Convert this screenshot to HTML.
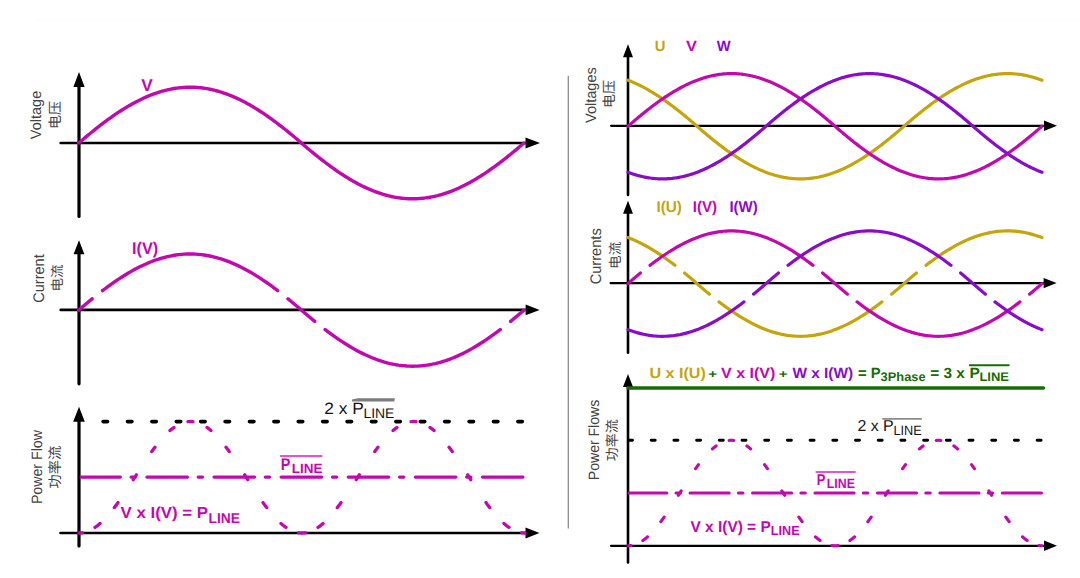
<!DOCTYPE html>
<html><head><meta charset="utf-8"><title>Power flow</title>
<style>
html,body{margin:0;padding:0;background:#fff;width:1080px;height:578px;overflow:hidden}
svg{display:block}
text{font-family:"Liberation Sans","Noto Sans CJK SC",sans-serif;text-rendering:geometricPrecision}
text.cjk{font-family:"Noto Sans CJK SC","WenQuanYi Zen Hei",sans-serif}
</style></head>
<body>
<svg width="1080" height="578" viewBox="0 0 1080 578">
<rect width="1080" height="578" fill="#fff"/>
<path d="M79 86 V216.4" stroke="#000" stroke-width="3.2" stroke-linecap="round"/>
<path d="M79 72 L73.4 87 L84.6 87 Z" fill="#000"/>
<path d="M60.7 143 H526.5" stroke="#000" stroke-width="2.6" stroke-linecap="round"/>
<path d="M540 143 L525.5 137.4 L525.5 148.6 Z" fill="#000"/>
<path d="M78.8 143 L80.29 141.72 L81.78 140.44 L83.27 139.18 L84.76 137.92 L86.24 136.67 L87.73 135.43 L89.22 134.2 L90.71 132.97 L92.2 131.76 L93.69 130.56 L95.18 129.37 L96.67 128.18 L98.16 127.01 L99.65 125.85 L101.13 124.7 L102.62 123.57 L104.11 122.44 L105.6 121.33 L107.09 120.23 L108.58 119.15 L110.07 118.08 L111.56 117.02 L113.05 115.98 L114.54 114.95 L116.02 113.93 L117.51 112.93 L119 111.95 L120.49 110.98 L121.98 110.03 L123.47 109.09 L124.96 108.17 L126.45 107.27 L127.94 106.38 L129.42 105.51 L130.91 104.66 L132.4 103.82 L133.89 103.01 L135.38 102.21 L136.87 101.43 L138.36 100.67 L139.85 99.93 L141.34 99.2 L142.83 98.5 L144.31 97.82 L145.8 97.15 L147.29 96.51 L148.78 95.89 L150.27 95.28 L151.76 94.7 L153.25 94.14 L154.74 93.6 L156.23 93.08 L157.72 92.58 L159.2 92.1 L160.69 91.64 L162.18 91.21 L163.67 90.8 L165.16 90.4 L166.65 90.04 L168.14 89.69 L169.63 89.36 L171.12 89.06 L172.6 88.78 L174.09 88.53 L175.58 88.29 L177.07 88.08 L178.56 87.89 L180.05 87.72 L181.54 87.58 L183.03 87.46 L184.52 87.36 L186.01 87.29 L187.49 87.24 L188.98 87.21 L190.47 87.2 L191.96 87.22 L193.45 87.26 L194.94 87.32 L196.43 87.41 L197.92 87.52 L199.41 87.65 L200.89 87.8 L202.38 87.98 L203.87 88.18 L205.36 88.41 L206.85 88.65 L208.34 88.92 L209.83 89.21 L211.32 89.52 L212.81 89.86 L214.3 90.22 L215.78 90.6 L217.27 91 L218.76 91.42 L220.25 91.87 L221.74 92.33 L223.23 92.82 L224.72 93.33 L226.21 93.86 L227.7 94.42 L229.19 94.99 L230.67 95.58 L232.16 96.19 L233.65 96.83 L235.14 97.48 L236.63 98.16 L238.12 98.85 L239.61 99.56 L241.1 100.3 L242.59 101.05 L244.07 101.82 L245.56 102.61 L247.05 103.41 L248.54 104.24 L250.03 105.08 L251.52 105.94 L253.01 106.82 L254.5 107.71 L255.99 108.63 L257.48 109.56 L258.96 110.5 L260.45 111.46 L261.94 112.44 L263.43 113.43 L264.92 114.44 L266.41 115.46 L267.9 116.5 L269.39 117.55 L270.88 118.61 L272.37 119.69 L273.85 120.78 L275.34 121.89 L276.83 123 L278.32 124.13 L279.81 125.28 L281.3 126.43 L282.79 127.6 L284.28 128.77 L285.77 129.96 L287.25 131.16 L288.74 132.37 L290.23 133.58 L291.72 134.81 L293.21 136.05 L294.7 137.29 L296.19 138.55 L297.68 139.81 L299.17 141.08 L300.66 142.36 L302.14 143.64 L303.63 144.92 L305.12 146.19 L306.61 147.45 L308.1 148.71 L309.59 149.95 L311.08 151.19 L312.57 152.42 L314.06 153.63 L315.55 154.84 L317.03 156.04 L318.52 157.23 L320.01 158.4 L321.5 159.57 L322.99 160.72 L324.48 161.87 L325.97 163 L327.46 164.11 L328.95 165.22 L330.43 166.31 L331.92 167.39 L333.41 168.45 L334.9 169.5 L336.39 170.54 L337.88 171.56 L339.37 172.57 L340.86 173.56 L342.35 174.54 L343.84 175.5 L345.32 176.44 L346.81 177.37 L348.3 178.29 L349.79 179.18 L351.28 180.06 L352.77 180.92 L354.26 181.76 L355.75 182.59 L357.24 183.39 L358.73 184.18 L360.21 184.95 L361.7 185.7 L363.19 186.44 L364.68 187.15 L366.17 187.84 L367.66 188.52 L369.15 189.17 L370.64 189.81 L372.13 190.42 L373.61 191.01 L375.1 191.58 L376.59 192.14 L378.08 192.67 L379.57 193.18 L381.06 193.67 L382.55 194.13 L384.04 194.58 L385.53 195 L387.02 195.4 L388.5 195.78 L389.99 196.14 L391.48 196.48 L392.97 196.79 L394.46 197.08 L395.95 197.35 L397.44 197.59 L398.93 197.82 L400.42 198.02 L401.91 198.2 L403.39 198.35 L404.88 198.48 L406.37 198.59 L407.86 198.68 L409.35 198.74 L410.84 198.78 L412.33 198.8 L413.82 198.79 L415.31 198.76 L416.79 198.71 L418.28 198.64 L419.77 198.54 L421.26 198.42 L422.75 198.28 L424.24 198.11 L425.73 197.92 L427.22 197.71 L428.71 197.47 L430.2 197.22 L431.68 196.94 L433.17 196.64 L434.66 196.31 L436.15 195.96 L437.64 195.6 L439.13 195.2 L440.62 194.79 L442.11 194.36 L443.6 193.9 L445.08 193.42 L446.57 192.92 L448.06 192.4 L449.55 191.86 L451.04 191.3 L452.53 190.72 L454.02 190.11 L455.51 189.49 L457 188.85 L458.49 188.18 L459.97 187.5 L461.46 186.8 L462.95 186.07 L464.44 185.33 L465.93 184.57 L467.42 183.79 L468.91 182.99 L470.4 182.18 L471.89 181.34 L473.38 180.49 L474.86 179.62 L476.35 178.73 L477.84 177.83 L479.33 176.91 L480.82 175.97 L482.31 175.02 L483.8 174.05 L485.29 173.07 L486.78 172.07 L488.26 171.05 L489.75 170.02 L491.24 168.98 L492.73 167.92 L494.22 166.85 L495.71 165.77 L497.2 164.67 L498.69 163.56 L500.18 162.43 L501.67 161.3 L503.15 160.15 L504.64 158.99 L506.13 157.82 L507.62 156.63 L509.11 155.44 L510.6 154.24 L512.09 153.03 L513.58 151.8 L515.07 150.57 L516.56 149.33 L518.04 148.08 L519.53 146.82 L521.02 145.56 L522.51 144.28 L524 143" stroke="#C208AE" stroke-width="3.4" fill="none" stroke-linecap="round" stroke-linejoin="round"/>
<path d="M79 253.2 V383.8" stroke="#000" stroke-width="3.2" stroke-linecap="round"/>
<path d="M79 240.2 L73.6 254.2 L84.4 254.2 Z" fill="#000"/>
<path d="M60.7 309.9 H526.6" stroke="#000" stroke-width="2.6" stroke-linecap="round"/>
<path d="M539.6 309.9 L525.6 304.5 L525.6 315.3 Z" fill="#000"/>
<path d="M78.8 310.1 L78.95 309.97 L79.1 309.84 L79.25 309.71 L79.39 309.59 L79.54 309.46 L79.69 309.33 L79.84 309.2 L79.99 309.07 L80.14 308.94 L80.28 308.82 L80.43 308.69 L80.58 308.56 L80.73 308.43 L80.88 308.3 L81.03 308.18 L81.18 308.05 L81.32 307.92 L81.47 307.79 L81.62 307.67 L81.77 307.54 L81.92 307.41 L82.07 307.28 L82.21 307.16 L82.36 307.03 L82.51 306.9 L82.66 306.78 L82.81 306.65 L82.96 306.52 L83.11 306.4 L83.25 306.27 L83.4 306.14 L83.55 306.02 L83.7 305.89 L83.85 305.76 L84 305.64 L84.14 305.51 L84.29 305.39 L84.44 305.26 L84.59 305.13 L84.74 305.01 L84.89 304.88 L85.03 304.76 L85.18 304.63 L85.33 304.51 L85.48 304.38 L85.63 304.26 L85.78 304.13 L85.93 304.01 L86.07 303.88 L86.22 303.76 L86.37 303.63 L86.52 303.51 L86.67 303.38 L86.82 303.26 L86.96 303.13 L87.11 303.01 L87.26 302.88 L87.41 302.76 L87.56 302.64 L87.71 302.51 L87.86 302.39 L88 302.26 L88.15 302.14 L88.3 302.02 L88.45 301.89 L88.6 301.77 L88.75 301.65 L88.89 301.52 L89.04 301.4 L89.19 301.28 L89.34 301.15 L89.49 301.03 L89.64 300.91 L89.79 300.78 L89.93 300.66 L90.08 300.54 L90.23 300.42 L90.38 300.29 L90.53 300.17 L90.68 300.05 L90.82 299.93 L90.97 299.81 L91.12 299.68 L91.27 299.56 L91.42 299.44 L91.57 299.32 L91.72 299.2 L91.86 299.08 L92.01 298.96 L92.16 298.83 L92.18 298.82 M102.53 290.63 L102.55 290.62 L105.37 288.49 L108.19 286.4 L111.01 284.37 L113.83 282.38 L116.65 280.45 L119.48 278.57 L122.3 276.75 L125.12 274.98 L127.94 273.28 L130.76 271.64 L133.58 270.06 L136.4 268.55 L139.22 267.11 L142.04 265.73 L144.86 264.43 L147.68 263.19 L150.5 262.03 L153.32 260.95 L156.14 259.94 L158.96 259 L161.78 258.14 L164.6 257.37 L167.42 256.67 L170.24 256.05 L173.07 255.51 L175.89 255.05 L178.71 254.68 L181.53 254.38 L184.35 254.17 L187.17 254.04 L189.99 254 L192.81 254.04 L195.63 254.16 L198.45 254.36 L201.27 254.65 L204.09 255.02 L206.91 255.47 L209.73 256 L212.55 256.61 L215.37 257.31 L218.19 258.08 L221.01 258.93 L223.84 259.86 L226.66 260.86 L229.48 261.94 L232.3 263.1 L235.12 264.33 L237.94 265.63 L240.76 267 L243.58 268.44 L246.4 269.94 L249.22 271.51 L252.04 273.15 L254.86 274.85 L257.68 276.61 L260.5 278.42 L263.32 280.3 L266.14 282.23 L268.96 284.21 L271.78 286.24 L274.6 288.32 L277.43 290.45 L277.67 290.63 M288.02 298.82 L288.11 298.89 L288.56 299.26 L289 299.62 L289.45 299.99 L289.9 300.36 L290.34 300.72 L290.79 301.09 L291.23 301.46 L291.68 301.83 L292.12 302.2 L292.57 302.57 L293.01 302.95 L293.46 303.32 L293.9 303.69 L294.35 304.07 L294.79 304.44 L295.24 304.82 L295.68 305.2 L296.13 305.58 L296.58 305.95 L297.02 306.33 L297.47 306.71 L297.91 307.09 L298.36 307.48 L298.8 307.86 L299.25 308.24 L299.69 308.62 L300.14 309.01 L300.58 309.39 L301.03 309.78 L301.47 310.16 L301.92 310.55 L302.36 310.94 L302.81 311.32 L303.26 311.7 L303.7 312.09 L304.15 312.47 L304.59 312.85 L305.04 313.23 L305.48 313.61 L305.93 313.99 L306.37 314.37 L306.82 314.75 L307.26 315.13 L307.71 315.51 L308.15 315.88 L308.6 316.26 L309.05 316.63 L309.49 317.01 L309.94 317.38 L310.38 317.75 L310.83 318.12 L311.27 318.49 L311.72 318.86 L312.16 319.23 L312.61 319.6 L313.05 319.97 L313.5 320.33 L313.94 320.7 L314.39 321.06 L314.78 321.38 M325.13 329.57 L325.23 329.64 L328.05 331.77 L330.87 333.85 L333.69 335.89 L336.51 337.87 L339.33 339.8 L342.15 341.68 L344.97 343.5 L347.79 345.26 L350.61 346.96 L353.43 348.6 L356.25 350.18 L359.07 351.69 L361.89 353.13 L364.71 354.5 L367.53 355.81 L370.35 357.04 L373.18 358.2 L376 359.28 L378.82 360.29 L381.64 361.22 L384.46 362.08 L387.28 362.85 L390.1 363.55 L392.92 364.17 L395.74 364.7 L398.56 365.16 L401.38 365.53 L404.2 365.82 L407.02 366.03 L409.84 366.16 L412.66 366.2 L415.48 366.16 L418.3 366.04 L421.12 365.83 L423.95 365.54 L426.77 365.17 L429.59 364.72 L432.41 364.18 L435.23 363.57 L438.05 362.87 L440.87 362.1 L443.69 361.25 L446.51 360.32 L449.33 359.31 L452.15 358.23 L454.97 357.07 L457.79 355.84 L460.61 354.54 L463.43 353.17 L466.25 351.73 L469.07 350.22 L471.89 348.64 L474.71 347.01 L477.54 345.31 L480.36 343.55 L483.18 341.73 L486 339.85 L488.82 337.92 L491.64 335.94 L494.46 333.91 L497.28 331.82 L500.1 329.7 L500.27 329.57 M510.62 321.38 L510.64 321.37 L510.79 321.24 L510.94 321.12 L511.08 321 L511.23 320.88 L511.38 320.76 L511.53 320.64 L511.68 320.52 L511.83 320.39 L511.98 320.27 L512.12 320.15 L512.27 320.03 L512.42 319.91 L512.57 319.78 L512.72 319.66 L512.87 319.54 L513.01 319.42 L513.16 319.29 L513.31 319.17 L513.46 319.05 L513.61 318.92 L513.76 318.8 L513.91 318.68 L514.05 318.55 L514.2 318.43 L514.35 318.31 L514.5 318.18 L514.65 318.06 L514.8 317.94 L514.94 317.81 L515.09 317.69 L515.24 317.56 L515.39 317.44 L515.54 317.32 L515.69 317.19 L515.84 317.07 L515.98 316.94 L516.13 316.82 L516.28 316.69 L516.43 316.57 L516.58 316.44 L516.73 316.32 L516.87 316.19 L517.02 316.07 L517.17 315.94 L517.32 315.82 L517.47 315.69 L517.62 315.57 L517.77 315.44 L517.91 315.32 L518.06 315.19 L518.21 315.07 L518.36 314.94 L518.51 314.81 L518.66 314.69 L518.8 314.56 L518.95 314.44 L519.1 314.31 L519.25 314.18 L519.4 314.06 L519.55 313.93 L519.69 313.8 L519.84 313.68 L519.99 313.55 L520.14 313.42 L520.29 313.3 L520.44 313.17 L520.59 313.04 L520.73 312.92 L520.88 312.79 L521.03 312.66 L521.18 312.53 L521.33 312.41 L521.48 312.28 L521.62 312.15 L521.77 312.02 L521.92 311.9 L522.07 311.77 L522.22 311.64 L522.37 311.51 L522.52 311.38 L522.66 311.26 L522.81 311.13 L522.96 311 L523.11 310.87 L523.26 310.74 L523.41 310.61 L523.55 310.49 L523.7 310.36 L523.85 310.23 L524 310.1 " stroke="#C208AE" stroke-width="3.4" fill="none" stroke-linecap="round" stroke-linejoin="round"/>
<path d="M79 420.8 V545.9" stroke="#000" stroke-width="3.2" stroke-linecap="round"/>
<path d="M79 406.8 L73.2 421.8 L84.8 421.8 Z" fill="#000"/>
<path d="M60.5 533 H526.5" stroke="#000" stroke-width="2.6" stroke-linecap="round"/>
<path d="M539.5 533 L525.5 527.6 L525.5 538.4 Z" fill="#000"/>
<path d="M103.05 421.6 h4.5 M127.45 421.6 h4.5 M151.85 421.6 h4.5 M176.25 421.6 h4.5 M200.65 421.6 h4.5 M225.05 421.6 h4.5 M249.45 421.6 h4.5 M273.85 421.6 h4.5 M298.25 421.6 h4.5 M322.65 421.6 h4.5 M347.05 421.6 h4.5 M371.45 421.6 h4.5 M395.85 421.6 h4.5 M420.25 421.6 h4.5 M444.65 421.6 h4.5 M469.05 421.6 h4.5 M493.45 421.6 h4.5 M517.85 421.6 h4.5" stroke="#000" stroke-width="3.6" fill="none" stroke-linecap="round"/>
<path d="M81.15 477.1 H120.35 M131.15 477.1 H135.35 M146.95 477.1 H187.45 M198.25 477.1 H202.45 M214.05 477.1 H254.55 M265.35 477.1 H269.55 M281.15 477.1 H321.65 M332.45 477.1 H336.65 M348.25 477.1 H388.75 M399.55 477.1 H403.75 M415.35 477.1 H455.85 M466.65 477.1 H470.85 M482.45 477.1 H522.95" stroke="#C208AE" stroke-width="3.3" fill="none" stroke-linecap="round"/>
<path d="M79 533 L79.11 533 L79.22 533 L79.33 533 L79.45 533 L79.56 532.99 L79.67 532.99 L79.78 532.99 L79.89 532.98 L80 532.98 L80.12 532.97 L80.23 532.97 L80.34 532.96 L80.45 532.95 L80.56 532.95 L80.67 532.94 L80.78 532.93 L80.9 532.92 L81.01 532.91 L81.12 532.9 L81.23 532.89 L81.34 532.88 L81.45 532.87 L81.57 532.85 L81.68 532.84 L81.79 532.83 L81.9 532.81 L82.01 532.8 L82.12 532.78 L82.23 532.77 L82.29 532.76 M94.97 527.45 L95.06 527.39 L95.17 527.31 L95.28 527.23 L95.39 527.16 L95.51 527.08 L95.62 527 L95.73 526.92 L95.84 526.84 L95.95 526.76 L96.06 526.68 L96.18 526.6 L96.29 526.52 L96.4 526.43 L96.51 526.35 L96.62 526.27 L96.73 526.18 L96.84 526.1 L96.96 526.02 L97.07 525.93 L97.18 525.85 L97.29 525.76 L97.4 525.67 L97.51 525.59 L97.63 525.5 L97.74 525.41 L97.85 525.32 L97.96 525.23 L98.07 525.14 L98.18 525.05 L98.29 524.96 L98.41 524.87 L98.52 524.78 L98.63 524.69 L98.74 524.6 L98.85 524.5 L98.96 524.41 L99.08 524.32 L99.19 524.22 L99.3 524.13 L99.41 524.03 L99.52 523.94 L99.63 523.84 L99.74 523.75 L99.86 523.65 L99.97 523.55 L100.08 523.45 M114.31 507.61 L114.35 507.55 L114.47 507.41 L114.58 507.26 L114.69 507.11 L114.8 506.96 L114.91 506.81 L115.02 506.67 L115.14 506.52 L115.25 506.37 L115.36 506.22 L115.47 506.07 L115.58 505.92 L115.69 505.77 L115.8 505.62 L115.92 505.47 L116.03 505.31 L116.14 505.16 L116.25 505.01 L116.36 504.86 L116.47 504.71 L116.58 504.55 L116.7 504.4 L116.81 504.25 L116.92 504.09 L117.03 503.94 L117.14 503.79 L117.25 503.63 L117.37 503.48 L117.48 503.32 L117.59 503.17 L117.7 503.01 L117.81 502.86 L117.92 502.7 L117.99 502.61 M133.19 479.7 L133.2 479.68 L133.31 479.5 L133.43 479.33 L133.54 479.15 L133.65 478.98 L133.76 478.8 L133.87 478.63 L133.98 478.45 L134.09 478.28 L134.21 478.1 L134.32 477.93 L134.43 477.75 L134.54 477.58 L134.65 477.4 L134.76 477.23 L134.88 477.05 L134.99 476.88 L135.1 476.7 L135.21 476.53 L135.32 476.35 L135.43 476.18 L135.54 476 L135.66 475.83 L135.77 475.65 L135.88 475.48 L135.99 475.3 L136.1 475.13 L136.21 474.95 L136.31 474.8 M151.75 451.56 L151.83 451.45 L151.94 451.29 L152.05 451.14 L152.16 450.98 L152.27 450.83 L152.39 450.67 L152.5 450.52 L152.61 450.37 L152.72 450.21 L152.83 450.06 L152.94 449.91 L153.05 449.76 L153.17 449.6 L153.28 449.45 L153.39 449.3 L153.5 449.15 L153.61 449 L153.72 448.85 L153.84 448.7 L153.95 448.54 L154.06 448.39 L154.17 448.24 L154.28 448.1 L154.39 447.95 L154.5 447.8 L154.62 447.65 L154.73 447.5 L154.84 447.35 L154.95 447.21 M169.94 430.59 L170.01 430.54 L170.12 430.44 L170.23 430.35 L170.34 430.25 L170.45 430.16 L170.56 430.07 L170.68 429.97 L170.79 429.88 L170.9 429.79 L171.01 429.7 L171.12 429.61 L171.23 429.51 L171.35 429.42 L171.46 429.33 L171.57 429.25 L171.68 429.16 L171.79 429.07 L171.9 428.98 L172.01 428.89 L172.13 428.81 L172.24 428.72 L172.35 428.63 L172.46 428.55 L172.57 428.46 L172.68 428.38 L172.79 428.29 L172.91 428.21 L173.02 428.13 L173.13 428.04 L173.24 427.96 L173.35 427.88 L173.46 427.8 L173.58 427.72 L173.69 427.64 L173.8 427.56 L173.91 427.48 L173.96 427.44 M188.01 421.64 L188.07 421.63 L188.19 421.62 L188.3 421.61 L188.41 421.6 L188.52 421.59 L188.63 421.58 L188.74 421.57 L188.85 421.56 L188.97 421.55 L189.08 421.54 L189.19 421.54 L189.3 421.53 L189.41 421.53 L189.52 421.52 L189.64 421.52 L189.75 421.51 L189.86 421.51 L189.97 421.51 L190.08 421.5 L190.19 421.5 L190.3 421.5 L190.42 421.5 L190.53 421.5 L190.64 421.5 L190.75 421.5 L190.86 421.5 L190.97 421.5 L191.09 421.51 L191.2 421.51 L191.31 421.51 L191.42 421.52 L191.53 421.52 L191.64 421.53 L191.75 421.53 L191.87 421.54 L191.98 421.55 L192.09 421.56 L192.2 421.56 L192.31 421.57 L192.42 421.58 L192.54 421.59 L192.65 421.6 L192.76 421.61 L192.87 421.62 L192.98 421.64 L192.99 421.64 M207.04 427.44 L207.15 427.52 L207.26 427.6 L207.37 427.68 L207.48 427.76 L207.59 427.84 L207.7 427.92 L207.81 428 L207.93 428.09 L208.04 428.17 L208.15 428.25 L208.26 428.34 L208.37 428.42 L208.48 428.51 L208.6 428.59 L208.71 428.68 L208.82 428.76 L208.93 428.85 L209.04 428.94 L209.15 429.02 L209.26 429.11 L209.38 429.2 L209.49 429.29 L209.6 429.38 L209.71 429.47 L209.82 429.56 L209.93 429.65 L210.05 429.74 L210.16 429.83 L210.27 429.93 L210.38 430.02 L210.49 430.11 L210.6 430.21 L210.71 430.3 L210.83 430.4 L210.94 430.49 L211.05 430.59 L211.06 430.59 M226.05 447.21 L226.11 447.28 L226.22 447.43 L226.33 447.57 L226.44 447.72 L226.55 447.87 L226.66 448.02 L226.77 448.17 L226.89 448.32 L227 448.47 L227.11 448.62 L227.22 448.77 L227.33 448.92 L227.44 449.07 L227.56 449.22 L227.67 449.38 L227.78 449.53 L227.89 449.68 L228 449.83 L228.11 449.98 L228.22 450.14 L228.34 450.29 L228.45 450.44 L228.56 450.6 L228.67 450.75 L228.78 450.91 L228.89 451.06 L229.01 451.21 L229.12 451.37 L229.23 451.53 L229.25 451.56 M244.69 474.8 L244.73 474.86 L244.84 475.04 L244.95 475.21 L245.07 475.39 L245.18 475.56 L245.29 475.74 L245.4 475.91 L245.51 476.09 L245.62 476.26 L245.73 476.44 L245.85 476.61 L245.96 476.79 L246.07 476.97 L246.18 477.14 L246.29 477.32 L246.4 477.49 L246.51 477.67 L246.63 477.84 L246.74 478.02 L246.85 478.19 L246.96 478.37 L247.07 478.54 L247.18 478.72 L247.3 478.89 L247.41 479.07 L247.52 479.24 L247.63 479.42 L247.74 479.59 L247.81 479.7 M263.01 502.61 L263.02 502.62 L263.13 502.78 L263.24 502.94 L263.36 503.09 L263.47 503.25 L263.58 503.4 L263.69 503.56 L263.8 503.71 L263.91 503.86 L264.02 504.02 L264.14 504.17 L264.25 504.32 L264.36 504.48 L264.47 504.63 L264.58 504.78 L264.69 504.94 L264.81 505.09 L264.92 505.24 L265.03 505.39 L265.14 505.54 L265.25 505.69 L265.36 505.84 L265.47 505.99 L265.59 506.14 L265.7 506.29 L265.81 506.44 L265.92 506.59 L266.03 506.74 L266.14 506.89 L266.26 507.04 L266.37 507.18 L266.48 507.33 L266.59 507.48 L266.69 507.61 M280.92 523.45 L280.98 523.5 L281.09 523.6 L281.2 523.7 L281.31 523.79 L281.42 523.89 L281.53 523.99 L281.65 524.08 L281.76 524.18 L281.87 524.27 L281.98 524.36 L282.09 524.46 L282.2 524.55 L282.32 524.64 L282.43 524.73 L282.54 524.83 L282.65 524.92 L282.76 525.01 L282.87 525.1 L282.98 525.19 L283.1 525.28 L283.21 525.37 L283.32 525.45 L283.43 525.54 L283.54 525.63 L283.65 525.72 L283.77 525.8 L283.88 525.89 L283.99 525.97 L284.1 526.06 L284.21 526.14 L284.32 526.23 L284.43 526.31 L284.55 526.39 L284.66 526.48 L284.77 526.56 L284.88 526.64 L284.99 526.72 L285.1 526.8 L285.22 526.88 L285.33 526.96 L285.44 527.04 L285.55 527.12 L285.66 527.2 L285.77 527.27 L285.88 527.35 L286 527.43 L286.03 527.45 M298.71 532.76 L298.82 532.78 L298.93 532.79 L299.04 532.81 L299.16 532.82 L299.27 532.83 L299.38 532.85 L299.49 532.86 L299.6 532.87 L299.71 532.88 L299.83 532.9 L299.94 532.91 L300.05 532.92 L300.16 532.93 L300.27 532.93 L300.38 532.94 L300.49 532.95 L300.61 532.96 L300.72 532.96 L300.83 532.97 L300.94 532.98 L301.05 532.98 L301.16 532.98 L301.28 532.99 L301.39 532.99 L301.5 532.99 L301.61 533 L301.72 533 L301.83 533 L301.94 533 L302.06 533 L302.17 533 L302.28 533 L302.39 533 L302.5 532.99 L302.61 532.99 L302.72 532.99 L302.84 532.98 L302.95 532.98 L303.06 532.98 L303.17 532.97 L303.28 532.96 L303.39 532.96 L303.51 532.95 L303.62 532.94 L303.73 532.93 L303.84 532.93 L303.95 532.92 L304.06 532.91 L304.17 532.9 L304.29 532.88 L304.4 532.87 L304.51 532.86 L304.62 532.85 L304.73 532.83 L304.84 532.82 L304.96 532.81 L305.07 532.79 L305.18 532.78 L305.29 532.76 M317.97 527.45 L318 527.43 L318.12 527.35 L318.23 527.27 L318.34 527.2 L318.45 527.12 L318.56 527.04 L318.67 526.96 L318.78 526.88 L318.9 526.8 L319.01 526.72 L319.12 526.64 L319.23 526.56 L319.34 526.48 L319.45 526.39 L319.57 526.31 L319.68 526.23 L319.79 526.14 L319.9 526.06 L320.01 525.97 L320.12 525.89 L320.23 525.8 L320.35 525.72 L320.46 525.63 L320.57 525.54 L320.68 525.45 L320.79 525.37 L320.9 525.28 L321.02 525.19 L321.13 525.1 L321.24 525.01 L321.35 524.92 L321.46 524.83 L321.57 524.73 L321.68 524.64 L321.8 524.55 L321.91 524.46 L322.02 524.36 L322.13 524.27 L322.24 524.18 L322.35 524.08 L322.47 523.99 L322.58 523.89 L322.69 523.79 L322.8 523.7 L322.91 523.6 L323.02 523.5 L323.08 523.45 M337.31 507.61 L337.41 507.48 L337.52 507.33 L337.63 507.18 L337.74 507.04 L337.86 506.89 L337.97 506.74 L338.08 506.59 L338.19 506.44 L338.3 506.29 L338.41 506.14 L338.53 505.99 L338.64 505.84 L338.75 505.69 L338.86 505.54 L338.97 505.39 L339.08 505.24 L339.19 505.09 L339.31 504.94 L339.42 504.78 L339.53 504.63 L339.64 504.48 L339.75 504.32 L339.86 504.17 L339.98 504.02 L340.09 503.86 L340.2 503.71 L340.31 503.56 L340.42 503.4 L340.53 503.25 L340.64 503.09 L340.76 502.94 L340.87 502.78 L340.98 502.62 L340.99 502.61 M356.19 479.7 L356.26 479.59 L356.37 479.42 L356.48 479.24 L356.59 479.07 L356.7 478.89 L356.82 478.72 L356.93 478.54 L357.04 478.37 L357.15 478.19 L357.26 478.02 L357.37 477.84 L357.49 477.67 L357.6 477.49 L357.71 477.32 L357.82 477.14 L357.93 476.97 L358.04 476.79 L358.15 476.61 L358.27 476.44 L358.38 476.26 L358.49 476.09 L358.6 475.91 L358.71 475.74 L358.82 475.56 L358.93 475.39 L359.05 475.21 L359.16 475.04 L359.27 474.86 L359.31 474.8 M374.75 451.56 L374.77 451.53 L374.88 451.37 L374.99 451.21 L375.11 451.06 L375.22 450.91 L375.33 450.75 L375.44 450.6 L375.55 450.44 L375.66 450.29 L375.78 450.14 L375.89 449.98 L376 449.83 L376.11 449.68 L376.22 449.53 L376.33 449.38 L376.44 449.22 L376.56 449.07 L376.67 448.92 L376.78 448.77 L376.89 448.62 L377 448.47 L377.11 448.32 L377.23 448.17 L377.34 448.02 L377.45 447.87 L377.56 447.72 L377.67 447.57 L377.78 447.43 L377.89 447.28 L377.95 447.21 M392.94 430.59 L392.95 430.59 L393.06 430.49 L393.17 430.4 L393.29 430.3 L393.4 430.21 L393.51 430.11 L393.62 430.02 L393.73 429.93 L393.84 429.83 L393.95 429.74 L394.07 429.65 L394.18 429.56 L394.29 429.47 L394.4 429.38 L394.51 429.29 L394.62 429.2 L394.74 429.11 L394.85 429.02 L394.96 428.94 L395.07 428.85 L395.18 428.76 L395.29 428.68 L395.4 428.59 L395.52 428.51 L395.63 428.42 L395.74 428.34 L395.85 428.25 L395.96 428.17 L396.07 428.09 L396.19 428 L396.3 427.92 L396.41 427.84 L396.52 427.76 L396.63 427.68 L396.74 427.6 L396.85 427.52 L396.96 427.44 M411.01 421.64 L411.02 421.64 L411.13 421.62 L411.24 421.61 L411.35 421.6 L411.46 421.59 L411.58 421.58 L411.69 421.57 L411.8 421.56 L411.91 421.56 L412.02 421.55 L412.13 421.54 L412.25 421.53 L412.36 421.53 L412.47 421.52 L412.58 421.52 L412.69 421.51 L412.8 421.51 L412.91 421.51 L413.03 421.5 L413.14 421.5 L413.25 421.5 L413.36 421.5 L413.47 421.5 L413.58 421.5 L413.7 421.5 L413.81 421.5 L413.92 421.5 L414.03 421.51 L414.14 421.51 L414.25 421.51 L414.36 421.52 L414.48 421.52 L414.59 421.53 L414.7 421.53 L414.81 421.54 L414.92 421.54 L415.03 421.55 L415.15 421.56 L415.26 421.57 L415.37 421.58 L415.48 421.59 L415.59 421.6 L415.7 421.61 L415.81 421.62 L415.93 421.63 L415.99 421.64 M430.04 427.44 L430.09 427.48 L430.2 427.56 L430.31 427.64 L430.42 427.72 L430.54 427.8 L430.65 427.88 L430.76 427.96 L430.87 428.04 L430.98 428.13 L431.09 428.21 L431.21 428.29 L431.32 428.38 L431.43 428.46 L431.54 428.55 L431.65 428.63 L431.76 428.72 L431.87 428.81 L431.99 428.89 L432.1 428.98 L432.21 429.07 L432.32 429.16 L432.43 429.25 L432.54 429.33 L432.65 429.42 L432.77 429.51 L432.88 429.61 L432.99 429.7 L433.1 429.79 L433.21 429.88 L433.32 429.97 L433.44 430.07 L433.55 430.16 L433.66 430.25 L433.77 430.35 L433.88 430.44 L433.99 430.54 L434.06 430.59 M449.05 447.21 L449.16 447.35 L449.27 447.5 L449.38 447.65 L449.5 447.8 L449.61 447.95 L449.72 448.1 L449.83 448.24 L449.94 448.39 L450.05 448.54 L450.16 448.7 L450.28 448.85 L450.39 449 L450.5 449.15 L450.61 449.3 L450.72 449.45 L450.83 449.6 L450.95 449.76 L451.06 449.91 L451.17 450.06 L451.28 450.21 L451.39 450.37 L451.5 450.52 L451.61 450.67 L451.73 450.83 L451.84 450.98 L451.95 451.14 L452.06 451.29 L452.17 451.45 L452.25 451.56 M467.69 474.8 L467.79 474.95 L467.9 475.13 L468.01 475.3 L468.12 475.48 L468.23 475.65 L468.34 475.83 L468.46 476 L468.57 476.18 L468.68 476.35 L468.79 476.53 L468.9 476.7 L469.01 476.88 L469.12 477.05 L469.24 477.23 L469.35 477.4 L469.46 477.58 L469.57 477.75 L469.68 477.93 L469.79 478.1 L469.91 478.28 L470.02 478.45 L470.13 478.63 L470.24 478.8 L470.35 478.98 L470.46 479.15 L470.57 479.33 L470.69 479.5 L470.8 479.68 L470.81 479.7 M486.01 502.61 L486.08 502.7 L486.19 502.86 L486.3 503.01 L486.41 503.17 L486.52 503.32 L486.63 503.48 L486.75 503.63 L486.86 503.79 L486.97 503.94 L487.08 504.09 L487.19 504.25 L487.3 504.4 L487.42 504.55 L487.53 504.71 L487.64 504.86 L487.75 505.01 L487.86 505.16 L487.97 505.31 L488.08 505.47 L488.2 505.62 L488.31 505.77 L488.42 505.92 L488.53 506.07 L488.64 506.22 L488.75 506.37 L488.86 506.52 L488.98 506.67 L489.09 506.81 L489.2 506.96 L489.31 507.11 L489.42 507.26 L489.53 507.41 L489.65 507.55 L489.69 507.61 M503.92 523.45 L504.03 523.55 L504.14 523.65 L504.26 523.75 L504.37 523.84 L504.48 523.94 L504.59 524.03 L504.7 524.13 L504.81 524.22 L504.92 524.32 L505.04 524.41 L505.15 524.5 L505.26 524.6 L505.37 524.69 L505.48 524.78 L505.59 524.87 L505.71 524.96 L505.82 525.05 L505.93 525.14 L506.04 525.23 L506.15 525.32 L506.26 525.41 L506.37 525.5 L506.49 525.59 L506.6 525.67 L506.71 525.76 L506.82 525.85 L506.93 525.93 L507.04 526.02 L507.16 526.1 L507.27 526.18 L507.38 526.27 L507.49 526.35 L507.6 526.43 L507.71 526.52 L507.82 526.6 L507.94 526.68 L508.05 526.76 L508.16 526.84 L508.27 526.92 L508.38 527 L508.49 527.08 L508.61 527.16 L508.72 527.23 L508.83 527.31 L508.94 527.39 L509.03 527.45 M521.71 532.76 L521.77 532.77 L521.88 532.78 L521.99 532.8 L522.1 532.81 L522.21 532.83 L522.32 532.84 L522.43 532.85 L522.55 532.87 L522.66 532.88 L522.77 532.89 L522.88 532.9 L522.99 532.91 L523.1 532.92 L523.22 532.93 L523.33 532.94 L523.44 532.95 L523.55 532.95 L523.66 532.96 L523.77 532.97 L523.88 532.97 L524 532.98 L524.11 532.98 L524.22 532.99 L524.33 532.99 L524.44 532.99 L524.55 533 L524.67 533 L524.78 533 L524.89 533 L525 533 " stroke="#C208AE" stroke-width="3.3" fill="none" stroke-linecap="round" stroke-linejoin="round"/>
<rect x="36.7" y="19.3" width="1043.3" height="1.2" fill="#fcfcfc"/>
<path d="M568.3 76 V528.5" stroke="#8a8a8a" stroke-width="1.3"/>
<path d="M628 56.3 V195" stroke="#000" stroke-width="2.6" stroke-linecap="round"/>
<path d="M628 44.3 L623 57.3 L633 57.3 Z" fill="#000"/>
<path d="M611.15 125.8 H1045" stroke="#000" stroke-width="2.3" stroke-linecap="round"/>
<path d="M1057 125.8 L1044 120.6 L1044 131 Z" fill="#000"/>
<path d="M628 80.23 L629.38 80.77 L630.77 81.32 L632.15 81.89 L633.54 82.48 L634.92 83.09 L636.31 83.72 L637.69 84.37 L639.08 85.04 L640.46 85.72 L641.85 86.43 L643.23 87.15 L644.62 87.89 L646 88.64 L647.38 89.41 L648.77 90.2 L650.15 91.01 L651.54 91.83 L652.92 92.67 L654.31 93.53 L655.69 94.4 L657.08 95.29 L658.46 96.19 L659.85 97.1 L661.23 98.04 L662.62 98.98 L664 99.94 L665.38 100.91 L666.77 101.9 L668.15 102.9 L669.54 103.91 L670.92 104.94 L672.31 105.98 L673.69 107.03 L675.08 108.09 L676.46 109.17 L677.85 110.25 L679.23 111.35 L680.62 112.45 L682 113.57 L683.38 114.7 L684.77 115.84 L686.15 116.98 L687.54 118.14 L688.92 119.3 L690.31 120.47 L691.69 121.65 L693.08 122.84 L694.46 124.04 L695.85 125.24 L697.23 126.45 L698.62 127.66 L700 128.86 L701.38 130.05 L702.77 131.24 L704.15 132.42 L705.54 133.59 L706.92 134.75 L708.31 135.9 L709.69 137.04 L711.08 138.18 L712.46 139.3 L713.85 140.42 L715.23 141.52 L716.62 142.61 L718 143.69 L719.38 144.76 L720.77 145.82 L722.15 146.87 L723.54 147.9 L724.92 148.92 L726.31 149.93 L727.69 150.93 L729.08 151.91 L730.46 152.88 L731.85 153.84 L733.23 154.78 L734.62 155.7 L736 156.61 L737.38 157.51 L738.77 158.39 L740.15 159.26 L741.54 160.11 L742.92 160.94 L744.31 161.76 L745.69 162.56 L747.08 163.34 L748.46 164.11 L749.85 164.86 L751.23 165.59 L752.62 166.31 L754 167.01 L755.38 167.69 L756.77 168.35 L758.15 168.99 L759.54 169.61 L760.92 170.22 L762.31 170.8 L763.69 171.37 L765.08 171.91 L766.46 172.44 L767.85 172.95 L769.23 173.44 L770.62 173.9 L772 174.35 L773.38 174.78 L774.77 175.18 L776.15 175.57 L777.54 175.94 L778.92 176.28 L780.31 176.6 L781.69 176.91 L783.08 177.19 L784.46 177.45 L785.85 177.69 L787.23 177.91 L788.62 178.1 L790 178.28 L791.38 178.43 L792.77 178.56 L794.15 178.67 L795.54 178.76 L796.92 178.83 L798.31 178.87 L799.69 178.9 L801.08 178.9 L802.46 178.88 L803.85 178.84 L805.23 178.77 L806.62 178.69 L808 178.58 L809.38 178.45 L810.77 178.3 L812.15 178.13 L813.54 177.94 L814.92 177.73 L816.31 177.49 L817.69 177.23 L819.08 176.96 L820.46 176.66 L821.85 176.34 L823.23 175.99 L824.62 175.63 L826 175.25 L827.38 174.85 L828.77 174.42 L830.15 173.98 L831.54 173.52 L832.92 173.03 L834.31 172.53 L835.69 172 L837.08 171.46 L838.46 170.9 L839.85 170.31 L841.23 169.71 L842.62 169.09 L844 168.45 L845.38 167.8 L846.77 167.12 L848.15 166.43 L849.54 165.71 L850.92 164.99 L852.31 164.24 L853.69 163.47 L855.08 162.69 L856.46 161.89 L857.85 161.08 L859.23 160.25 L860.62 159.4 L862 158.54 L863.38 157.66 L864.77 156.77 L866.15 155.86 L867.54 154.93 L868.92 153.99 L870.31 153.04 L871.69 152.07 L873.08 151.09 L874.46 150.1 L875.85 149.09 L877.23 148.07 L878.62 147.04 L880 146 L881.38 144.94 L882.77 143.87 L884.15 142.79 L885.54 141.7 L886.92 140.6 L888.31 139.49 L889.69 138.37 L891.08 137.23 L892.46 136.09 L893.85 134.94 L895.23 133.78 L896.62 132.61 L898 131.44 L899.38 130.25 L900.77 129.06 L902.15 127.86 L903.54 126.65 L904.92 125.44 L906.31 124.24 L907.69 123.04 L909.08 121.85 L910.46 120.67 L911.85 119.5 L913.23 118.33 L914.62 117.17 L916 116.03 L917.38 114.89 L918.77 113.76 L920.15 112.64 L921.54 111.53 L922.92 110.43 L924.31 109.35 L925.69 108.27 L927.08 107.21 L928.46 106.15 L929.85 105.11 L931.23 104.08 L932.62 103.07 L934 102.07 L935.38 101.08 L936.77 100.1 L938.15 99.14 L939.54 98.19 L940.92 97.26 L942.31 96.34 L943.69 95.44 L945.08 94.55 L946.46 93.67 L947.85 92.81 L949.23 91.97 L950.62 91.15 L952 90.34 L953.38 89.55 L954.77 88.77 L956.15 88.01 L957.54 87.27 L958.92 86.55 L960.31 85.84 L961.69 85.15 L963.08 84.48 L964.46 83.83 L965.85 83.2 L967.23 82.58 L968.62 81.99 L970 81.41 L971.38 80.86 L972.77 80.32 L974.15 79.8 L975.54 79.31 L976.92 78.83 L978.31 78.37 L979.69 77.93 L981.08 77.52 L982.46 77.12 L983.85 76.74 L985.23 76.39 L986.62 76.06 L988 75.74 L989.38 75.45 L990.77 75.18 L992.15 74.93 L993.54 74.7 L994.92 74.49 L996.31 74.31 L997.69 74.14 L999.08 74 L1000.46 73.88 L1001.85 73.78 L1003.23 73.7 L1004.62 73.65 L1006 73.61 L1007.38 73.6 L1008.77 73.61 L1010.15 73.64 L1011.54 73.69 L1012.92 73.77 L1014.31 73.86 L1015.69 73.98 L1017.08 74.12 L1018.46 74.28 L1019.85 74.46 L1021.23 74.66 L1022.62 74.89 L1024 75.14 L1025.38 75.4 L1026.77 75.69 L1028.15 76 L1029.54 76.33 L1030.92 76.68 L1032.31 77.06 L1033.69 77.45 L1035.08 77.86 L1036.46 78.3 L1037.85 78.75 L1039.23 79.22 L1040.62 79.72 L1042 80.23" stroke="#C4A50C" stroke-width="3.2" fill="none" stroke-linecap="round" stroke-linejoin="round"/>
<path d="M628 126.25 L629.38 125.04 L630.77 123.84 L632.15 122.64 L633.54 121.46 L634.92 120.28 L636.31 119.11 L637.69 117.94 L639.08 116.79 L640.46 115.65 L641.85 114.51 L643.23 113.39 L644.62 112.27 L646 111.16 L647.38 110.07 L648.77 108.99 L650.15 107.91 L651.54 106.85 L652.92 105.81 L654.31 104.77 L655.69 103.74 L657.08 102.73 L658.46 101.74 L659.85 100.75 L661.23 99.78 L662.62 98.82 L664 97.88 L665.38 96.95 L666.77 96.04 L668.15 95.14 L669.54 94.25 L670.92 93.38 L672.31 92.53 L673.69 91.7 L675.08 90.88 L676.46 90.07 L677.85 89.28 L679.23 88.51 L680.62 87.76 L682 87.03 L683.38 86.31 L684.77 85.61 L686.15 84.93 L687.54 84.26 L688.92 83.62 L690.31 82.99 L691.69 82.38 L693.08 81.8 L694.46 81.23 L695.85 80.68 L697.23 80.15 L698.62 79.63 L700 79.14 L701.38 78.67 L702.77 78.22 L704.15 77.79 L705.54 77.38 L706.92 76.99 L708.31 76.62 L709.69 76.28 L711.08 75.95 L712.46 75.64 L713.85 75.36 L715.23 75.09 L716.62 74.85 L718 74.63 L719.38 74.43 L720.77 74.25 L722.15 74.09 L723.54 73.96 L724.92 73.84 L726.31 73.75 L727.69 73.68 L729.08 73.63 L730.46 73.61 L731.85 73.6 L733.23 73.62 L734.62 73.65 L736 73.71 L737.38 73.8 L738.77 73.9 L740.15 74.02 L741.54 74.17 L742.92 74.34 L744.31 74.53 L745.69 74.74 L747.08 74.97 L748.46 75.22 L749.85 75.5 L751.23 75.79 L752.62 76.11 L754 76.45 L755.38 76.81 L756.77 77.18 L758.15 77.58 L759.54 78 L760.92 78.44 L762.31 78.91 L763.69 79.39 L765.08 79.89 L766.46 80.41 L767.85 80.95 L769.23 81.51 L770.62 82.09 L772 82.69 L773.38 83.3 L774.77 83.94 L776.15 84.59 L777.54 85.27 L778.92 85.96 L780.31 86.67 L781.69 87.39 L783.08 88.14 L784.46 88.9 L785.85 89.68 L787.23 90.47 L788.62 91.28 L790 92.11 L791.38 92.96 L792.77 93.82 L794.15 94.69 L795.54 95.58 L796.92 96.49 L798.31 97.41 L799.69 98.35 L801.08 99.3 L802.46 100.26 L803.85 101.24 L805.23 102.23 L806.62 103.24 L808 104.26 L809.38 105.29 L810.77 106.33 L812.15 107.38 L813.54 108.45 L814.92 109.53 L816.31 110.62 L817.69 111.72 L819.08 112.83 L820.46 113.95 L821.85 115.08 L823.23 116.22 L824.62 117.37 L826 118.52 L827.38 119.69 L828.77 120.87 L830.15 122.05 L831.54 123.24 L832.92 124.44 L834.31 125.64 L835.69 126.86 L837.08 128.06 L838.46 129.26 L839.85 130.45 L841.23 131.63 L842.62 132.81 L844 133.98 L845.38 135.13 L846.77 136.28 L848.15 137.42 L849.54 138.55 L850.92 139.67 L852.31 140.78 L853.69 141.88 L855.08 142.97 L856.46 144.05 L857.85 145.12 L859.23 146.17 L860.62 147.21 L862 148.24 L863.38 149.26 L864.77 150.27 L866.15 151.26 L867.54 152.24 L868.92 153.2 L870.31 154.15 L871.69 155.09 L873.08 156.01 L874.46 156.92 L875.85 157.81 L877.23 158.68 L878.62 159.54 L880 160.39 L881.38 161.22 L882.77 162.03 L884.15 162.82 L885.54 163.6 L886.92 164.36 L888.31 165.11 L889.69 165.83 L891.08 166.54 L892.46 167.23 L893.85 167.91 L895.23 168.56 L896.62 169.2 L898 169.81 L899.38 170.41 L900.77 170.99 L902.15 171.55 L903.54 172.09 L904.92 172.61 L906.31 173.11 L907.69 173.59 L909.08 174.06 L910.46 174.5 L911.85 174.92 L913.23 175.32 L914.62 175.69 L916 176.05 L917.38 176.39 L918.77 176.71 L920.15 177 L921.54 177.28 L922.92 177.53 L924.31 177.76 L925.69 177.97 L927.08 178.16 L928.46 178.33 L929.85 178.48 L931.23 178.6 L932.62 178.7 L934 178.79 L935.38 178.85 L936.77 178.88 L938.15 178.9 L939.54 178.89 L940.92 178.87 L942.31 178.82 L943.69 178.75 L945.08 178.66 L946.46 178.54 L947.85 178.41 L949.23 178.25 L950.62 178.07 L952 177.87 L953.38 177.65 L954.77 177.41 L956.15 177.14 L957.54 176.86 L958.92 176.55 L960.31 176.22 L961.69 175.88 L963.08 175.51 L964.46 175.12 L965.85 174.71 L967.23 174.28 L968.62 173.83 L970 173.36 L971.38 172.87 L972.77 172.35 L974.15 171.82 L975.54 171.27 L976.92 170.7 L978.31 170.12 L979.69 169.51 L981.08 168.88 L982.46 168.24 L983.85 167.57 L985.23 166.89 L986.62 166.19 L988 165.47 L989.38 164.74 L990.77 163.99 L992.15 163.22 L993.54 162.43 L994.92 161.62 L996.31 160.8 L997.69 159.97 L999.08 159.12 L1000.46 158.25 L1001.85 157.36 L1003.23 156.46 L1004.62 155.55 L1006 154.62 L1007.38 153.68 L1008.77 152.72 L1010.15 151.75 L1011.54 150.76 L1012.92 149.77 L1014.31 148.76 L1015.69 147.73 L1017.08 146.69 L1018.46 145.65 L1019.85 144.59 L1021.23 143.51 L1022.62 142.43 L1024 141.34 L1025.38 140.23 L1026.77 139.11 L1028.15 137.99 L1029.54 136.85 L1030.92 135.71 L1032.31 134.56 L1033.69 133.39 L1035.08 132.22 L1036.46 131.04 L1037.85 129.86 L1039.23 128.66 L1040.62 127.46 L1042 126.25" stroke="#C208AE" stroke-width="3.2" fill="none" stroke-linecap="round" stroke-linejoin="round"/>
<path d="M628 172.27 L629.38 172.78 L630.77 173.28 L632.15 173.75 L633.54 174.2 L634.92 174.64 L636.31 175.05 L637.69 175.44 L639.08 175.82 L640.46 176.17 L641.85 176.5 L643.23 176.81 L644.62 177.1 L646 177.36 L647.38 177.61 L648.77 177.84 L650.15 178.04 L651.54 178.22 L652.92 178.38 L654.31 178.52 L655.69 178.64 L657.08 178.73 L658.46 178.81 L659.85 178.86 L661.23 178.89 L662.62 178.9 L664 178.89 L665.38 178.85 L666.77 178.8 L668.15 178.72 L669.54 178.62 L670.92 178.5 L672.31 178.36 L673.69 178.19 L675.08 178.01 L676.46 177.8 L677.85 177.57 L679.23 177.32 L680.62 177.05 L682 176.76 L683.38 176.44 L684.77 176.11 L686.15 175.76 L687.54 175.38 L688.92 174.98 L690.31 174.57 L691.69 174.13 L693.08 173.67 L694.46 173.19 L695.85 172.7 L697.23 172.18 L698.62 171.64 L700 171.09 L701.38 170.51 L702.77 169.92 L704.15 169.3 L705.54 168.67 L706.92 168.02 L708.31 167.35 L709.69 166.66 L711.08 165.95 L712.46 165.23 L713.85 164.49 L715.23 163.73 L716.62 162.95 L718 162.16 L719.38 161.35 L720.77 160.53 L722.15 159.69 L723.54 158.83 L724.92 157.95 L726.31 157.06 L727.69 156.16 L729.08 155.24 L730.46 154.31 L731.85 153.36 L733.23 152.4 L734.62 151.42 L736 150.43 L737.38 149.43 L738.77 148.42 L740.15 147.39 L741.54 146.35 L742.92 145.29 L744.31 144.23 L745.69 143.15 L747.08 142.07 L748.46 140.97 L749.85 139.86 L751.23 138.74 L752.62 137.61 L754 136.47 L755.38 135.33 L756.77 134.17 L758.15 133 L759.54 131.83 L760.92 130.65 L762.31 129.46 L763.69 128.26 L765.08 127.06 L766.46 125.85 L767.85 124.64 L769.23 123.44 L770.62 122.25 L772 121.06 L773.38 119.89 L774.77 118.72 L776.15 117.56 L777.54 116.41 L778.92 115.27 L780.31 114.13 L781.69 113.01 L783.08 111.9 L784.46 110.8 L785.85 109.71 L787.23 108.63 L788.62 107.56 L790 106.5 L791.38 105.46 L792.77 104.43 L794.15 103.41 L795.54 102.4 L796.92 101.41 L798.31 100.43 L799.69 99.46 L801.08 98.51 L802.46 97.57 L803.85 96.64 L805.23 95.73 L806.62 94.84 L808 93.96 L809.38 93.1 L810.77 92.25 L812.15 91.42 L813.54 90.61 L814.92 89.81 L816.31 89.03 L817.69 88.26 L819.08 87.51 L820.46 86.79 L821.85 86.07 L823.23 85.38 L824.62 84.7 L826 84.05 L827.38 83.41 L828.77 82.79 L830.15 82.19 L831.54 81.6 L832.92 81.04 L834.31 80.5 L835.69 79.97 L837.08 79.47 L838.46 78.98 L839.85 78.52 L841.23 78.08 L842.62 77.65 L844 77.25 L845.38 76.87 L846.77 76.51 L848.15 76.16 L849.54 75.84 L850.92 75.54 L852.31 75.27 L853.69 75.01 L855.08 74.77 L856.46 74.56 L857.85 74.37 L859.23 74.2 L860.62 74.05 L862 73.92 L863.38 73.81 L864.77 73.73 L866.15 73.66 L867.54 73.62 L868.92 73.6 L870.31 73.6 L871.69 73.63 L873.08 73.67 L874.46 73.74 L875.85 73.83 L877.23 73.94 L878.62 74.07 L880 74.22 L881.38 74.4 L882.77 74.59 L884.15 74.81 L885.54 75.05 L886.92 75.31 L888.31 75.59 L889.69 75.9 L891.08 76.22 L892.46 76.56 L893.85 76.93 L895.23 77.32 L896.62 77.72 L898 78.15 L899.38 78.6 L900.77 79.06 L902.15 79.55 L903.54 80.06 L904.92 80.59 L906.31 81.13 L907.69 81.7 L909.08 82.28 L910.46 82.89 L911.85 83.51 L913.23 84.15 L914.62 84.81 L916 85.49 L917.38 86.19 L918.77 86.91 L920.15 87.64 L921.54 88.39 L922.92 89.16 L924.31 89.94 L925.69 90.74 L927.08 91.56 L928.46 92.39 L929.85 93.24 L931.23 94.11 L932.62 94.99 L934 95.89 L935.38 96.8 L936.77 97.72 L938.15 98.66 L939.54 99.62 L940.92 100.59 L942.31 101.57 L943.69 102.57 L945.08 103.58 L946.46 104.6 L947.85 105.63 L949.23 106.68 L950.62 107.74 L952 108.81 L953.38 109.89 L954.77 110.98 L956.15 112.08 L957.54 113.2 L958.92 114.32 L960.31 115.46 L961.69 116.6 L963.08 117.75 L964.46 118.91 L965.85 120.08 L967.23 121.26 L968.62 122.45 L970 123.64 L971.38 124.84 L972.77 126.05 L974.15 127.26 L975.54 128.46 L976.92 129.66 L978.31 130.85 L979.69 132.03 L981.08 133.2 L982.46 134.36 L983.85 135.52 L985.23 136.66 L986.62 137.8 L988 138.93 L989.38 140.05 L990.77 141.15 L992.15 142.25 L993.54 143.33 L994.92 144.41 L996.31 145.47 L997.69 146.52 L999.08 147.56 L1000.46 148.59 L1001.85 149.6 L1003.23 150.6 L1004.62 151.59 L1006 152.56 L1007.38 153.52 L1008.77 154.46 L1010.15 155.4 L1011.54 156.31 L1012.92 157.21 L1014.31 158.1 L1015.69 158.97 L1017.08 159.83 L1018.46 160.67 L1019.85 161.49 L1021.23 162.3 L1022.62 163.09 L1024 163.86 L1025.38 164.61 L1026.77 165.35 L1028.15 166.07 L1029.54 166.78 L1030.92 167.46 L1032.31 168.13 L1033.69 168.78 L1035.08 169.41 L1036.46 170.02 L1037.85 170.61 L1039.23 171.18 L1040.62 171.73 L1042 172.27" stroke="#8A0CC8" stroke-width="3.2" fill="none" stroke-linecap="round" stroke-linejoin="round"/>
<path d="M628 212.7 V352.8" stroke="#000" stroke-width="2.6" stroke-linecap="round"/>
<path d="M628 200.7 L623 213.7 L633 213.7 Z" fill="#000"/>
<path d="M610.65 283.1 H1044.6" stroke="#000" stroke-width="2.3" stroke-linecap="round"/>
<path d="M1056.6 283.1 L1043.6 277.9 L1043.6 288.3 Z" fill="#000"/>
<path d="M628 237.54 L628.14 237.59 L628.83 237.86 L629.52 238.13 L630.21 238.4 L630.9 238.68 L631.59 238.96 L632.28 239.25 L632.97 239.55 L633.66 239.85 L634.35 240.15 L635.04 240.46 L635.73 240.77 L636.42 241.09 L637.11 241.41 L637.8 241.73 L638.49 242.07 L639.18 242.4 L639.87 242.74 L640.56 243.09 L641.25 243.44 L641.94 243.79 L642.63 244.15 L643.32 244.51 L644.01 244.88 L644.7 245.25 L645.39 245.62 L646.08 246 L646.77 246.39 L647.46 246.77 L648.15 247.17 L648.84 247.56 L649.54 247.96 L650.23 248.37 L650.92 248.78 L651.61 249.19 L652.3 249.61 L652.99 250.03 L653.68 250.46 L654.37 250.88 L655.06 251.32 L655.75 251.75 L656.44 252.19 L657.13 252.64 L657.82 253.09 L658.51 253.54 L659.2 254 L659.89 254.45 L660.58 254.92 L661.27 255.38 L661.96 255.85 L662.65 256.33 L663.34 256.81 L664.03 257.29 L664.72 257.77 L665.41 258.26 L666.1 258.75 L666.79 259.24 L667.48 259.74 L668.17 260.24 L668.86 260.75 L669.55 261.25 L670.24 261.76 L670.93 262.28 L671.62 262.79 L672.31 263.31 L673 263.84 L673.69 264.36 L674.38 264.89 L674.98 265.35 M684.59 273.03 L684.6 273.04 L685.01 273.38 L685.43 273.72 L685.84 274.06 L686.26 274.41 L686.67 274.75 L687.08 275.1 L687.5 275.45 L687.91 275.79 L688.33 276.14 L688.74 276.49 L689.15 276.84 L689.57 277.19 L689.98 277.54 L690.4 277.89 L690.81 278.25 L691.23 278.6 L691.64 278.95 L692.05 279.31 L692.47 279.67 L692.88 280.02 L693.3 280.38 L693.71 280.74 L694.12 281.09 L694.54 281.45 L694.95 281.81 L695.37 282.17 L695.78 282.53 L696.19 282.9 L696.61 283.26 L697.02 283.62 L697.44 283.98 L697.85 284.34 L698.27 284.71 L698.68 285.07 L699.09 285.43 L699.51 285.79 L699.92 286.15 L700.34 286.5 L700.75 286.86 L701.16 287.22 L701.58 287.57 L701.99 287.93 L702.41 288.28 L702.82 288.64 L703.24 288.99 L703.65 289.34 L704.06 289.7 L704.48 290.05 L704.89 290.4 L705.31 290.75 L705.72 291.1 L706.13 291.45 L706.55 291.79 L706.96 292.14 L707.38 292.49 L707.79 292.83 L708.2 293.17 L708.62 293.52 L709.03 293.86 L709.41 294.17 M719.02 301.85 L719.11 301.92 L721.73 303.92 L724.36 305.88 L726.98 307.79 L729.6 309.66 L732.22 311.47 L734.85 313.24 L737.47 314.95 L740.09 316.6 L742.72 318.2 L745.34 319.74 L747.96 321.22 L750.58 322.64 L753.21 324 L755.83 325.29 L758.45 326.51 L761.08 327.67 L763.7 328.76 L766.32 329.78 L768.94 330.73 L771.57 331.61 L774.19 332.41 L776.81 333.14 L779.44 333.8 L782.06 334.38 L784.68 334.89 L787.31 335.32 L789.93 335.67 L792.55 335.94 L795.17 336.14 L797.8 336.26 L800.42 336.3 L803.04 336.26 L805.67 336.15 L808.29 335.96 L810.91 335.69 L813.53 335.34 L816.16 334.92 L818.78 334.41 L821.4 333.84 L824.03 333.19 L826.65 332.46 L829.27 331.66 L831.89 330.79 L834.52 329.84 L837.14 328.83 L839.76 327.74 L842.39 326.59 L845.01 325.37 L847.63 324.08 L850.25 322.73 L852.88 321.31 L855.5 319.83 L858.12 318.3 L860.75 316.7 L863.37 315.05 L865.99 313.34 L868.61 311.58 L871.24 309.77 L873.86 307.91 L876.48 306 L879.11 304.04 L881.73 302.04 L881.98 301.85 M891.59 294.17 L891.67 294.11 L892.08 293.77 L892.5 293.42 L892.91 293.08 L893.32 292.73 L893.74 292.39 L894.15 292.04 L894.57 291.7 L894.98 291.35 L895.4 291 L895.81 290.65 L896.22 290.3 L896.64 289.95 L897.05 289.6 L897.47 289.25 L897.88 288.89 L898.29 288.54 L898.71 288.19 L899.12 287.83 L899.54 287.48 L899.95 287.12 L900.36 286.76 L900.78 286.4 L901.19 286.05 L901.61 285.69 L902.02 285.33 L902.44 284.97 L902.85 284.61 L903.26 284.24 L903.68 283.88 L904.09 283.52 L904.51 283.16 L904.92 282.8 L905.33 282.43 L905.75 282.07 L906.16 281.71 L906.58 281.35 L906.99 280.99 L907.41 280.64 L907.82 280.28 L908.23 279.92 L908.65 279.57 L909.06 279.21 L909.48 278.86 L909.89 278.5 L910.3 278.15 L910.72 277.8 L911.13 277.44 L911.55 277.09 L911.96 276.74 L912.37 276.39 L912.79 276.04 L913.2 275.7 L913.62 275.35 L914.03 275 L914.45 274.66 L914.86 274.31 L915.27 273.97 L915.69 273.62 L916.1 273.28 L916.41 273.03 M926.02 265.35 L926.04 265.33 L927.97 263.85 L929.91 262.4 L931.84 260.97 L933.77 259.56 L935.7 258.18 L937.64 256.82 L939.57 255.49 L941.5 254.19 L943.44 252.92 L945.37 251.68 L947.3 250.47 L949.23 249.29 L951.17 248.14 L953.1 247.02 L955.03 245.94 L956.96 244.89 L958.9 243.87 L960.83 242.89 L962.76 241.94 L964.69 241.03 L966.63 240.16 L968.56 239.32 L970.49 238.52 L972.42 237.76 L974.36 237.03 L976.29 236.35 L978.22 235.7 L980.16 235.1 L982.09 234.53 L984.02 234 L985.95 233.51 L987.89 233.07 L989.82 232.66 L991.75 232.3 L993.68 231.98 L995.62 231.7 L997.55 231.46 L999.48 231.26 L1001.41 231.11 L1003.35 231 L1005.28 230.93 L1007.21 230.9 L1009.15 230.92 L1011.08 230.97 L1013.01 231.07 L1014.94 231.21 L1016.88 231.4 L1018.81 231.62 L1020.74 231.89 L1022.67 232.2 L1024.61 232.55 L1026.54 232.94 L1028.47 233.38 L1030.4 233.85 L1032.34 234.37 L1034.27 234.92 L1036.2 235.52 L1038.13 236.15 L1040.07 236.83 L1042 237.54 " stroke="#C4A50C" stroke-width="3.2" fill="none" stroke-linecap="round" stroke-linejoin="round"/>
<path d="M628 283.6 L628.14 283.48 L628.28 283.36 L628.41 283.24 L628.55 283.12 L628.69 283 L628.83 282.88 L628.97 282.75 L629.1 282.63 L629.24 282.51 L629.38 282.39 L629.52 282.27 L629.66 282.15 L629.79 282.03 L629.93 281.91 L630.07 281.79 L630.21 281.67 L630.35 281.55 L630.48 281.43 L630.62 281.31 L630.76 281.19 L630.9 281.07 L631.04 280.96 L631.18 280.84 L631.31 280.72 L631.45 280.6 L631.59 280.48 L631.73 280.36 L631.87 280.24 L632 280.12 L632.14 280 L632.28 279.88 L632.42 279.76 L632.56 279.65 L632.69 279.53 L632.83 279.41 L632.97 279.29 L633.11 279.17 L633.25 279.05 L633.38 278.94 L633.52 278.82 L633.66 278.7 L633.8 278.58 L633.94 278.46 L634.07 278.35 L634.21 278.23 L634.35 278.11 L634.49 277.99 L634.63 277.87 L634.76 277.76 L634.9 277.64 L635.04 277.52 L635.18 277.41 L635.32 277.29 L635.45 277.17 L635.59 277.05 L635.73 276.94 L635.87 276.82 L636.01 276.7 L636.14 276.59 L636.28 276.47 L636.42 276.35 L636.56 276.24 L636.7 276.12 L636.83 276.01 L636.97 275.89 L637.11 275.77 L637.25 275.66 L637.39 275.54 L637.53 275.43 L637.66 275.31 L637.8 275.2 L637.94 275.08 L638.08 274.96 L638.22 274.85 L638.35 274.73 L638.49 274.62 L638.63 274.5 L638.77 274.39 L638.91 274.27 L639.04 274.16 L639.18 274.04 L639.32 273.93 L639.46 273.82 L639.6 273.7 L639.73 273.59 L639.87 273.47 L640.01 273.36 L640.15 273.24 L640.29 273.13 L640.41 273.03 M650.02 265.35 L650.09 265.3 L652.71 263.3 L655.33 261.34 L657.96 259.43 L660.58 257.56 L663.2 255.74 L665.82 253.98 L668.45 252.27 L671.07 250.61 L673.69 249.01 L676.32 247.47 L678.94 245.99 L681.56 244.57 L684.18 243.21 L686.81 241.92 L689.43 240.7 L692.05 239.54 L694.68 238.45 L697.3 237.43 L699.92 236.48 L702.54 235.6 L705.17 234.79 L707.79 234.06 L710.41 233.4 L713.04 232.82 L715.66 232.32 L718.28 231.89 L720.9 231.54 L723.53 231.26 L726.15 231.06 L728.77 230.94 L731.4 230.9 L734.02 230.94 L736.64 231.05 L739.27 231.24 L741.89 231.51 L744.51 231.86 L747.13 232.28 L749.76 232.78 L752.38 233.36 L755 234.01 L757.63 234.73 L760.25 235.53 L762.87 236.4 L765.49 237.35 L768.12 238.36 L770.74 239.45 L773.36 240.6 L775.99 241.82 L778.61 243.11 L781.23 244.46 L783.85 245.88 L786.48 247.35 L789.1 248.89 L791.72 250.48 L794.35 252.14 L796.97 253.84 L799.59 255.6 L802.21 257.42 L804.84 259.28 L807.46 261.19 L810.08 263.14 L812.71 265.14 L812.98 265.35 M822.59 273.03 L822.64 273.07 L823.06 273.42 L823.47 273.76 L823.89 274.1 L824.3 274.45 L824.72 274.79 L825.13 275.14 L825.54 275.48 L825.96 275.83 L826.37 276.18 L826.79 276.53 L827.2 276.88 L827.61 277.23 L828.03 277.58 L828.44 277.93 L828.86 278.29 L829.27 278.64 L829.69 278.99 L830.1 279.35 L830.51 279.7 L830.93 280.06 L831.34 280.42 L831.76 280.78 L832.17 281.13 L832.58 281.49 L833 281.85 L833.41 282.21 L833.83 282.57 L834.24 282.94 L834.65 283.3 L835.07 283.66 L835.48 284.02 L835.9 284.38 L836.31 284.75 L836.73 285.11 L837.14 285.47 L837.55 285.83 L837.97 286.19 L838.38 286.54 L838.8 286.9 L839.21 287.26 L839.62 287.61 L840.04 287.97 L840.45 288.32 L840.87 288.68 L841.28 289.03 L841.7 289.38 L842.11 289.74 L842.52 290.09 L842.94 290.44 L843.35 290.79 L843.77 291.14 L844.18 291.48 L844.59 291.83 L845.01 292.18 L845.42 292.52 L845.84 292.87 L846.25 293.21 L846.66 293.56 L847.08 293.9 L847.41 294.17 M857.02 301.85 L857.02 301.85 L859.64 303.85 L862.26 305.81 L864.89 307.72 L867.51 309.59 L870.13 311.41 L872.76 313.17 L875.38 314.89 L878 316.54 L880.62 318.15 L883.25 319.69 L885.87 321.17 L888.49 322.59 L891.12 323.95 L893.74 325.25 L896.36 326.47 L898.98 327.63 L901.61 328.73 L904.23 329.75 L906.85 330.7 L909.48 331.58 L912.1 332.39 L914.72 333.12 L917.34 333.78 L919.97 334.36 L922.59 334.87 L925.21 335.3 L927.84 335.66 L930.46 335.93 L933.08 336.13 L935.7 336.26 L938.33 336.3 L940.95 336.27 L943.57 336.15 L946.2 335.96 L948.82 335.7 L951.44 335.35 L954.06 334.93 L956.69 334.43 L959.31 333.86 L961.93 333.21 L964.56 332.49 L967.18 331.69 L969.8 330.82 L972.42 329.88 L975.05 328.86 L977.67 327.78 L980.29 326.63 L982.92 325.41 L985.54 324.13 L988.16 322.78 L990.78 321.36 L993.41 319.89 L996.03 318.35 L998.65 316.76 L1001.28 315.11 L1003.9 313.4 L1006.52 311.64 L1009.15 309.83 L1011.77 307.97 L1014.39 306.07 L1017.01 304.11 L1019.64 302.11 L1019.98 301.85 M1029.59 294.17 L1029.71 294.07 L1029.85 293.96 L1029.99 293.84 L1030.13 293.73 L1030.27 293.61 L1030.4 293.5 L1030.54 293.38 L1030.68 293.27 L1030.82 293.16 L1030.96 293.04 L1031.09 292.93 L1031.23 292.81 L1031.37 292.7 L1031.51 292.58 L1031.65 292.47 L1031.78 292.35 L1031.92 292.24 L1032.06 292.12 L1032.2 292 L1032.34 291.89 L1032.47 291.77 L1032.61 291.66 L1032.75 291.54 L1032.89 291.43 L1033.03 291.31 L1033.17 291.19 L1033.3 291.08 L1033.44 290.96 L1033.58 290.85 L1033.72 290.73 L1033.86 290.61 L1033.99 290.5 L1034.13 290.38 L1034.27 290.26 L1034.41 290.15 L1034.55 290.03 L1034.68 289.91 L1034.82 289.79 L1034.96 289.68 L1035.1 289.56 L1035.24 289.44 L1035.37 289.33 L1035.51 289.21 L1035.65 289.09 L1035.79 288.97 L1035.93 288.85 L1036.06 288.74 L1036.2 288.62 L1036.34 288.5 L1036.48 288.38 L1036.62 288.26 L1036.75 288.15 L1036.89 288.03 L1037.03 287.91 L1037.17 287.79 L1037.31 287.67 L1037.44 287.55 L1037.58 287.44 L1037.72 287.32 L1037.86 287.2 L1038 287.08 L1038.13 286.96 L1038.27 286.84 L1038.41 286.72 L1038.55 286.6 L1038.69 286.48 L1038.82 286.36 L1038.96 286.24 L1039.1 286.13 L1039.24 286.01 L1039.38 285.89 L1039.52 285.77 L1039.65 285.65 L1039.79 285.53 L1039.93 285.41 L1040.07 285.29 L1040.21 285.17 L1040.34 285.05 L1040.48 284.93 L1040.62 284.81 L1040.76 284.69 L1040.9 284.57 L1041.03 284.45 L1041.17 284.32 L1041.31 284.2 L1041.45 284.08 L1041.59 283.96 L1041.72 283.84 L1041.86 283.72 L1042 283.6 " stroke="#C208AE" stroke-width="3.2" fill="none" stroke-linecap="round" stroke-linejoin="round"/>
<path d="M628 329.66 L628.14 329.71 L630.07 330.42 L632 331.09 L633.94 331.73 L635.87 332.32 L637.8 332.87 L639.73 333.38 L641.67 333.85 L643.6 334.29 L645.53 334.67 L647.46 335.02 L649.4 335.33 L651.33 335.59 L653.26 335.82 L655.2 336 L657.13 336.14 L659.06 336.23 L660.99 336.29 L662.93 336.3 L664.86 336.27 L666.79 336.2 L668.72 336.08 L670.66 335.92 L672.59 335.72 L674.52 335.48 L676.45 335.2 L678.39 334.87 L680.32 334.51 L682.25 334.1 L684.18 333.65 L686.12 333.16 L688.05 332.63 L689.98 332.06 L691.92 331.45 L693.85 330.8 L695.78 330.12 L697.71 329.39 L699.65 328.62 L701.58 327.82 L703.51 326.98 L705.44 326.1 L707.38 325.19 L709.31 324.24 L711.24 323.26 L713.17 322.24 L715.11 321.18 L717.04 320.1 L718.97 318.98 L720.9 317.83 L722.84 316.64 L724.77 315.43 L726.7 314.19 L728.64 312.91 L730.57 311.61 L732.5 310.28 L734.43 308.93 L736.37 307.54 L738.3 306.13 L740.23 304.7 L742.16 303.24 L743.98 301.85 M753.59 294.17 L753.62 294.15 L754.04 293.8 L754.45 293.46 L754.86 293.12 L755.28 292.77 L755.69 292.43 L756.11 292.08 L756.52 291.73 L756.93 291.39 L757.35 291.04 L757.76 290.69 L758.18 290.34 L758.59 289.99 L759.01 289.64 L759.42 289.29 L759.83 288.93 L760.25 288.58 L760.66 288.23 L761.08 287.87 L761.49 287.51 L761.9 287.16 L762.32 286.8 L762.73 286.44 L763.15 286.09 L763.56 285.73 L763.98 285.37 L764.39 285.01 L764.8 284.65 L765.22 284.28 L765.63 283.92 L766.05 283.56 L766.46 283.2 L766.87 282.84 L767.29 282.47 L767.7 282.11 L768.12 281.75 L768.53 281.39 L768.94 281.03 L769.36 280.68 L769.77 280.32 L770.19 279.96 L770.6 279.61 L771.02 279.25 L771.43 278.9 L771.84 278.54 L772.26 278.19 L772.67 277.84 L773.09 277.48 L773.5 277.13 L773.91 276.78 L774.33 276.43 L774.74 276.08 L775.16 275.74 L775.57 275.39 L775.99 275.04 L776.4 274.7 L776.81 274.35 L777.23 274.01 L777.64 273.66 L778.06 273.32 L778.41 273.03 M788.02 265.35 L788.13 265.26 L790.76 263.26 L793.38 261.3 L796 259.39 L798.62 257.53 L801.25 255.71 L803.87 253.95 L806.49 252.24 L809.12 250.58 L811.74 248.98 L814.36 247.44 L816.98 245.96 L819.61 244.55 L822.23 243.19 L824.85 241.9 L827.48 240.67 L830.1 239.52 L832.72 238.43 L835.35 237.41 L837.97 236.46 L840.59 235.58 L843.21 234.78 L845.84 234.05 L848.46 233.39 L851.08 232.81 L853.71 232.31 L856.33 231.88 L858.95 231.53 L861.57 231.26 L864.2 231.06 L866.82 230.94 L869.44 230.9 L872.07 230.94 L874.69 231.05 L877.31 231.25 L879.93 231.52 L882.56 231.86 L885.18 232.29 L887.8 232.79 L890.43 233.37 L893.05 234.02 L895.67 234.75 L898.29 235.55 L900.92 236.42 L903.54 237.37 L906.16 238.38 L908.79 239.47 L911.41 240.62 L914.03 241.84 L916.65 243.13 L919.28 244.49 L921.9 245.9 L924.52 247.38 L927.15 248.92 L929.77 250.51 L932.39 252.17 L935.01 253.87 L937.64 255.63 L940.26 257.45 L942.88 259.31 L945.51 261.22 L948.13 263.18 L950.75 265.17 L950.98 265.35 M960.59 273.03 L960.69 273.11 L961.11 273.45 L961.52 273.8 L961.93 274.14 L962.35 274.48 L962.76 274.83 L963.18 275.18 L963.59 275.52 L964 275.87 L964.42 276.22 L964.83 276.57 L965.25 276.92 L965.66 277.27 L966.07 277.62 L966.49 277.97 L966.9 278.33 L967.32 278.68 L967.73 279.03 L968.15 279.39 L968.56 279.74 L968.97 280.1 L969.39 280.46 L969.8 280.82 L970.22 281.17 L970.63 281.53 L971.04 281.89 L971.46 282.25 L971.87 282.61 L972.29 282.98 L972.7 283.34 L973.12 283.7 L973.53 284.06 L973.94 284.43 L974.36 284.79 L974.77 285.15 L975.19 285.51 L975.6 285.87 L976.01 286.23 L976.43 286.58 L976.84 286.94 L977.26 287.3 L977.67 287.65 L978.08 288.01 L978.5 288.36 L978.91 288.72 L979.33 289.07 L979.74 289.42 L980.16 289.77 L980.57 290.13 L980.98 290.48 L981.4 290.83 L981.81 291.17 L982.23 291.52 L982.64 291.87 L983.05 292.22 L983.47 292.56 L983.88 292.91 L984.3 293.25 L984.71 293.59 L985.13 293.94 L985.41 294.17 M995.02 301.85 L995.06 301.88 L995.75 302.41 L996.44 302.94 L997.14 303.47 L997.83 303.99 L998.52 304.51 L999.21 305.03 L999.9 305.54 L1000.59 306.05 L1001.28 306.55 L1001.97 307.06 L1002.66 307.56 L1003.35 308.06 L1004.04 308.55 L1004.73 309.04 L1005.42 309.53 L1006.11 310.01 L1006.8 310.49 L1007.49 310.97 L1008.18 311.44 L1008.87 311.91 L1009.56 312.38 L1010.25 312.84 L1010.94 313.3 L1011.63 313.75 L1012.32 314.2 L1013.01 314.65 L1013.7 315.09 L1014.39 315.53 L1015.08 315.97 L1015.77 316.4 L1016.46 316.83 L1017.15 317.25 L1017.84 317.67 L1018.53 318.09 L1019.22 318.5 L1019.91 318.91 L1020.6 319.32 L1021.29 319.72 L1021.98 320.11 L1022.67 320.5 L1023.36 320.89 L1024.05 321.27 L1024.74 321.65 L1025.43 322.03 L1026.12 322.4 L1026.81 322.76 L1027.51 323.12 L1028.2 323.48 L1028.89 323.83 L1029.58 324.18 L1030.27 324.53 L1030.96 324.87 L1031.65 325.2 L1032.34 325.53 L1033.03 325.86 L1033.72 326.18 L1034.41 326.49 L1035.1 326.81 L1035.79 327.11 L1036.48 327.41 L1037.17 327.71 L1037.86 328.01 L1038.55 328.29 L1039.24 328.58 L1039.93 328.86 L1040.62 329.13 L1041.31 329.4 L1042 329.66 " stroke="#8A0CC8" stroke-width="3.2" fill="none" stroke-linecap="round" stroke-linejoin="round"/>
<path d="M628 386.1 V562.5" stroke="#000" stroke-width="2.6" stroke-linecap="round"/>
<path d="M628 374.1 L623 387.1 L633 387.1 Z" fill="#000"/>
<path d="M611.05 545.8 H1045" stroke="#000" stroke-width="2.3" stroke-linecap="round"/>
<path d="M1057 545.8 L1044 540.6 L1044 551 Z" fill="#000"/>
<path d="M628 388 H1043.5" stroke="#1A6B08" stroke-width="3.4" fill="none" stroke-linecap="round"/>
<path d="M628.5 440.3 h4 M651.2 440.3 h4 M673.9 440.3 h4 M696.6 440.3 h4 M719.3 440.3 h4 M742 440.3 h4 M764.7 440.3 h4 M787.4 440.3 h4 M810.1 440.3 h4 M832.8 440.3 h4 M855.5 440.3 h4 M878.2 440.3 h4 M900.9 440.3 h4 M923.6 440.3 h4 M946.3 440.3 h4 M969 440.3 h4 M991.7 440.3 h4 M1014.4 440.3 h4 M1037.1 440.3 h4" stroke="#000" stroke-width="2.9" fill="none" stroke-linecap="round"/>
<path d="M629 492.9 H666.8 M675.95 492.9 H680.45 M690.05 492.9 H729.25 M738.4 492.9 H742.9 M752.5 492.9 H791.7 M800.85 492.9 H805.35 M814.95 492.9 H854.15 M863.3 492.9 H867.8 M877.4 492.9 H916.6 M925.75 492.9 H930.25 M939.85 492.9 H979.05 M988.2 492.9 H992.7 M1002.3 492.9 H1041.5" stroke="#C208AE" stroke-width="3.0" fill="none" stroke-linecap="round"/>
<path d="M628 545.8 L628.1 545.8 L628.21 545.8 L628.31 545.8 L628.41 545.8 L628.52 545.79 L628.62 545.79 L628.72 545.79 L628.83 545.78 L628.93 545.78 L629.04 545.77 L629.14 545.77 L629.24 545.76 L629.35 545.76 L629.45 545.75 L629.55 545.74 L629.66 545.73 L629.76 545.72 L629.86 545.72 L629.97 545.71 L630.07 545.7 L630.17 545.69 L630.28 545.67 L630.38 545.66 L630.48 545.65 L630.59 545.64 L630.69 545.62 L630.8 545.61 L630.9 545.6 L631 545.58 L631.04 545.58 M642.85 540.53 L642.91 540.49 L643.01 540.42 L643.11 540.35 L643.22 540.27 L643.32 540.2 L643.43 540.12 L643.53 540.05 L643.63 539.97 L643.74 539.9 L643.84 539.82 L643.94 539.74 L644.05 539.67 L644.15 539.59 L644.25 539.51 L644.36 539.43 L644.46 539.35 L644.56 539.27 L644.67 539.19 L644.77 539.11 L644.87 539.03 L644.98 538.95 L645.08 538.87 L645.19 538.78 L645.29 538.7 L645.39 538.62 L645.5 538.53 L645.6 538.45 L645.7 538.37 L645.81 538.28 L645.91 538.2 L646.01 538.11 L646.12 538.02 L646.22 537.94 L646.32 537.85 L646.43 537.76 L646.53 537.67 L646.63 537.58 L646.74 537.5 L646.84 537.41 L646.95 537.32 L647.05 537.23 L647.15 537.13 L647.26 537.04 L647.36 536.95 L647.46 536.86 L647.54 536.79 M660.81 521.73 L660.82 521.72 L660.92 521.58 L661.02 521.44 L661.13 521.3 L661.23 521.16 L661.34 521.02 L661.44 520.88 L661.54 520.74 L661.65 520.6 L661.75 520.46 L661.85 520.32 L661.96 520.18 L662.06 520.03 L662.16 519.89 L662.27 519.75 L662.37 519.6 L662.47 519.46 L662.58 519.32 L662.68 519.17 L662.78 519.03 L662.89 518.88 L662.99 518.74 L663.1 518.6 L663.2 518.45 L663.3 518.3 L663.41 518.16 L663.51 518.01 L663.61 517.87 L663.72 517.72 L663.82 517.57 L663.92 517.43 L664.03 517.28 L664.13 517.13 L664.16 517.09 M678.33 495.32 L678.42 495.18 L678.52 495.02 L678.62 494.85 L678.73 494.69 L678.83 494.52 L678.93 494.36 L679.04 494.19 L679.14 494.02 L679.25 493.86 L679.35 493.69 L679.45 493.53 L679.56 493.36 L679.66 493.2 L679.76 493.03 L679.87 492.86 L679.97 492.7 L680.07 492.53 L680.18 492.37 L680.28 492.2 L680.38 492.03 L680.49 491.87 L680.59 491.7 L680.69 491.54 L680.8 491.37 L680.9 491.21 L681.01 491.04 L681.11 490.88 L681.17 490.78 M695.56 468.7 L695.6 468.64 L695.71 468.49 L695.81 468.34 L695.91 468.2 L696.02 468.05 L696.12 467.9 L696.22 467.76 L696.33 467.61 L696.43 467.47 L696.53 467.32 L696.64 467.18 L696.74 467.03 L696.84 466.89 L696.95 466.75 L697.05 466.6 L697.16 466.46 L697.26 466.32 L697.36 466.17 L697.47 466.03 L697.57 465.89 L697.67 465.75 L697.78 465.61 L697.88 465.46 L697.98 465.32 L698.09 465.18 L698.19 465.04 L698.29 464.9 L698.4 464.76 L698.47 464.67 M712.45 448.88 L712.48 448.85 L712.58 448.76 L712.68 448.67 L712.79 448.58 L712.89 448.49 L712.99 448.4 L713.1 448.32 L713.2 448.23 L713.31 448.14 L713.41 448.06 L713.51 447.97 L713.62 447.88 L713.72 447.8 L713.82 447.71 L713.93 447.63 L714.03 447.54 L714.13 447.46 L714.24 447.38 L714.34 447.29 L714.44 447.21 L714.55 447.13 L714.65 447.05 L714.75 446.97 L714.86 446.89 L714.96 446.81 L715.07 446.73 L715.17 446.65 L715.27 446.57 L715.38 446.49 L715.48 446.41 L715.58 446.34 L715.69 446.26 L715.79 446.18 L715.89 446.11 L716 446.03 L716.1 445.96 L716.12 445.94 M729.2 440.43 L729.25 440.42 L729.35 440.41 L729.46 440.4 L729.56 440.39 L729.66 440.38 L729.77 440.37 L729.87 440.36 L729.97 440.36 L730.08 440.35 L730.18 440.34 L730.28 440.34 L730.39 440.33 L730.49 440.32 L730.59 440.32 L730.7 440.32 L730.8 440.31 L730.9 440.31 L731.01 440.31 L731.11 440.3 L731.22 440.3 L731.32 440.3 L731.42 440.3 L731.53 440.3 L731.63 440.3 L731.73 440.3 L731.84 440.3 L731.94 440.3 L732.04 440.31 L732.15 440.31 L732.25 440.31 L732.35 440.32 L732.46 440.32 L732.56 440.33 L732.66 440.33 L732.77 440.34 L732.87 440.35 L732.98 440.35 L733.08 440.36 L733.18 440.37 L733.29 440.38 L733.39 440.39 L733.49 440.4 L733.6 440.41 L733.7 440.42 L733.8 440.43 M746.88 445.94 L746.95 446 L747.05 446.07 L747.16 446.15 L747.26 446.22 L747.37 446.3 L747.47 446.38 L747.57 446.45 L747.68 446.53 L747.78 446.61 L747.88 446.69 L747.99 446.77 L748.09 446.85 L748.19 446.93 L748.3 447.01 L748.4 447.09 L748.5 447.17 L748.61 447.25 L748.71 447.34 L748.81 447.42 L748.92 447.5 L749.02 447.59 L749.13 447.67 L749.23 447.76 L749.33 447.84 L749.44 447.93 L749.54 448.01 L749.64 448.1 L749.75 448.19 L749.85 448.27 L749.95 448.36 L750.06 448.45 L750.16 448.54 L750.26 448.63 L750.37 448.72 L750.47 448.81 L750.55 448.88 M764.53 464.67 L764.55 464.69 L764.65 464.83 L764.76 464.97 L764.86 465.11 L764.96 465.25 L765.07 465.39 L765.17 465.54 L765.28 465.68 L765.38 465.82 L765.48 465.96 L765.59 466.1 L765.69 466.25 L765.79 466.39 L765.9 466.53 L766 466.67 L766.1 466.82 L766.21 466.96 L766.31 467.11 L766.41 467.25 L766.52 467.4 L766.62 467.54 L766.72 467.69 L766.83 467.83 L766.93 467.98 L767.04 468.12 L767.14 468.27 L767.24 468.42 L767.35 468.56 L767.44 468.7 M781.83 490.78 L781.84 490.79 L781.94 490.96 L782.05 491.12 L782.15 491.29 L782.25 491.45 L782.36 491.62 L782.46 491.79 L782.56 491.95 L782.67 492.12 L782.77 492.28 L782.87 492.45 L782.98 492.61 L783.08 492.78 L783.19 492.95 L783.29 493.11 L783.39 493.28 L783.5 493.44 L783.6 493.61 L783.7 493.78 L783.81 493.94 L783.91 494.11 L784.01 494.27 L784.12 494.44 L784.22 494.6 L784.32 494.77 L784.43 494.94 L784.53 495.1 L784.63 495.27 L784.67 495.32 M798.84 517.09 L798.92 517.21 L799.02 517.35 L799.13 517.5 L799.23 517.65 L799.34 517.79 L799.44 517.94 L799.54 518.09 L799.65 518.23 L799.75 518.38 L799.85 518.52 L799.96 518.67 L800.06 518.81 L800.16 518.96 L800.27 519.1 L800.37 519.25 L800.47 519.39 L800.58 519.53 L800.68 519.68 L800.78 519.82 L800.89 519.96 L800.99 520.1 L801.1 520.25 L801.2 520.39 L801.3 520.53 L801.41 520.67 L801.51 520.81 L801.61 520.95 L801.72 521.09 L801.82 521.23 L801.92 521.37 L802.03 521.51 L802.13 521.65 L802.19 521.73 M815.46 536.79 L815.49 536.81 L815.59 536.91 L815.69 537 L815.8 537.09 L815.9 537.18 L816 537.27 L816.11 537.36 L816.21 537.45 L816.31 537.54 L816.42 537.63 L816.52 537.72 L816.62 537.81 L816.73 537.89 L816.83 537.98 L816.93 538.07 L817.04 538.15 L817.14 538.24 L817.25 538.32 L817.35 538.41 L817.45 538.49 L817.56 538.58 L817.66 538.66 L817.76 538.74 L817.87 538.83 L817.97 538.91 L818.07 538.99 L818.18 539.07 L818.28 539.15 L818.38 539.23 L818.49 539.31 L818.59 539.39 L818.69 539.47 L818.8 539.55 L818.9 539.63 L819.01 539.7 L819.11 539.78 L819.21 539.86 L819.32 539.93 L819.42 540.01 L819.52 540.09 L819.63 540.16 L819.73 540.23 L819.83 540.31 L819.94 540.38 L820.04 540.45 L820.14 540.53 L820.15 540.53 M831.96 545.58 L832.05 545.59 L832.15 545.6 L832.26 545.62 L832.36 545.63 L832.46 545.64 L832.57 545.66 L832.67 545.67 L832.77 545.68 L832.88 545.69 L832.98 545.7 L833.08 545.71 L833.19 545.72 L833.29 545.73 L833.4 545.74 L833.5 545.75 L833.6 545.75 L833.71 545.76 L833.81 545.77 L833.91 545.77 L834.02 545.78 L834.12 545.78 L834.22 545.79 L834.33 545.79 L834.43 545.79 L834.53 545.79 L834.64 545.8 L834.74 545.8 L834.84 545.8 L834.95 545.8 L835.05 545.8 L835.16 545.8 L835.26 545.8 L835.36 545.8 L835.47 545.79 L835.57 545.79 L835.67 545.79 L835.78 545.79 L835.88 545.78 L835.98 545.78 L836.09 545.77 L836.19 545.77 L836.29 545.76 L836.4 545.75 L836.5 545.75 L836.6 545.74 L836.71 545.73 L836.81 545.72 L836.92 545.71 L837.02 545.7 L837.12 545.69 L837.23 545.68 L837.33 545.67 L837.43 545.66 L837.54 545.64 L837.64 545.63 L837.74 545.62 L837.85 545.6 L837.95 545.59 L838.04 545.58 M849.85 540.53 L849.86 540.53 L849.96 540.45 L850.06 540.38 L850.17 540.31 L850.27 540.23 L850.37 540.16 L850.48 540.09 L850.58 540.01 L850.68 539.93 L850.79 539.86 L850.89 539.78 L850.99 539.7 L851.1 539.63 L851.2 539.55 L851.31 539.47 L851.41 539.39 L851.51 539.31 L851.62 539.23 L851.72 539.15 L851.82 539.07 L851.93 538.99 L852.03 538.91 L852.13 538.83 L852.24 538.74 L852.34 538.66 L852.44 538.58 L852.55 538.49 L852.65 538.41 L852.75 538.32 L852.86 538.24 L852.96 538.15 L853.07 538.07 L853.17 537.98 L853.27 537.89 L853.38 537.81 L853.48 537.72 L853.58 537.63 L853.69 537.54 L853.79 537.45 L853.89 537.36 L854 537.27 L854.1 537.18 L854.2 537.09 L854.31 537 L854.41 536.91 L854.51 536.81 L854.54 536.79 M867.81 521.73 L867.87 521.65 L867.97 521.51 L868.08 521.37 L868.18 521.23 L868.28 521.09 L868.39 520.95 L868.49 520.81 L868.59 520.67 L868.7 520.53 L868.8 520.39 L868.9 520.25 L869.01 520.1 L869.11 519.96 L869.22 519.82 L869.32 519.68 L869.42 519.53 L869.53 519.39 L869.63 519.25 L869.73 519.1 L869.84 518.96 L869.94 518.81 L870.04 518.67 L870.15 518.52 L870.25 518.38 L870.35 518.23 L870.46 518.09 L870.56 517.94 L870.66 517.79 L870.77 517.65 L870.87 517.5 L870.98 517.35 L871.08 517.21 L871.16 517.09 M885.33 495.32 L885.37 495.27 L885.47 495.1 L885.57 494.94 L885.68 494.77 L885.78 494.6 L885.88 494.44 L885.99 494.27 L886.09 494.11 L886.19 493.94 L886.3 493.78 L886.4 493.61 L886.5 493.44 L886.61 493.28 L886.71 493.11 L886.81 492.95 L886.92 492.78 L887.02 492.61 L887.13 492.45 L887.23 492.28 L887.33 492.12 L887.44 491.95 L887.54 491.79 L887.64 491.62 L887.75 491.45 L887.85 491.29 L887.95 491.12 L888.06 490.96 L888.16 490.79 L888.17 490.78 M902.56 468.7 L902.65 468.56 L902.76 468.42 L902.86 468.27 L902.96 468.12 L903.07 467.98 L903.17 467.83 L903.28 467.69 L903.38 467.54 L903.48 467.4 L903.59 467.25 L903.69 467.11 L903.79 466.96 L903.9 466.82 L904 466.68 L904.1 466.53 L904.21 466.39 L904.31 466.25 L904.41 466.1 L904.52 465.96 L904.62 465.82 L904.72 465.68 L904.83 465.54 L904.93 465.39 L905.04 465.25 L905.14 465.11 L905.24 464.97 L905.35 464.83 L905.45 464.69 L905.47 464.67 M919.45 448.88 L919.53 448.81 L919.63 448.72 L919.74 448.63 L919.84 448.54 L919.94 448.45 L920.05 448.36 L920.15 448.27 L920.25 448.19 L920.36 448.1 L920.46 448.01 L920.56 447.93 L920.67 447.84 L920.77 447.76 L920.87 447.67 L920.98 447.59 L921.08 447.5 L921.19 447.42 L921.29 447.34 L921.39 447.25 L921.5 447.17 L921.6 447.09 L921.7 447.01 L921.81 446.93 L921.91 446.85 L922.01 446.77 L922.12 446.69 L922.22 446.61 L922.32 446.53 L922.43 446.45 L922.53 446.38 L922.63 446.3 L922.74 446.22 L922.84 446.15 L922.95 446.07 L923.05 446 L923.12 445.94 M936.2 440.43 L936.3 440.42 L936.4 440.41 L936.51 440.4 L936.61 440.39 L936.71 440.38 L936.82 440.37 L936.92 440.36 L937.02 440.35 L937.13 440.35 L937.23 440.34 L937.34 440.33 L937.44 440.33 L937.54 440.32 L937.65 440.32 L937.75 440.31 L937.85 440.31 L937.96 440.31 L938.06 440.3 L938.16 440.3 L938.27 440.3 L938.37 440.3 L938.47 440.3 L938.58 440.3 L938.68 440.3 L938.78 440.3 L938.89 440.3 L938.99 440.31 L939.1 440.31 L939.2 440.31 L939.3 440.32 L939.41 440.32 L939.51 440.32 L939.61 440.33 L939.72 440.34 L939.82 440.34 L939.92 440.35 L940.03 440.36 L940.13 440.36 L940.23 440.37 L940.34 440.38 L940.44 440.39 L940.54 440.4 L940.65 440.41 L940.75 440.42 L940.8 440.43 M953.88 445.94 L953.9 445.96 L954 446.03 L954.11 446.11 L954.21 446.18 L954.31 446.26 L954.42 446.34 L954.52 446.41 L954.62 446.49 L954.73 446.57 L954.83 446.65 L954.93 446.73 L955.04 446.81 L955.14 446.89 L955.25 446.97 L955.35 447.05 L955.45 447.13 L955.56 447.21 L955.66 447.29 L955.76 447.38 L955.87 447.46 L955.97 447.54 L956.07 447.63 L956.18 447.71 L956.28 447.8 L956.38 447.88 L956.49 447.97 L956.59 448.06 L956.69 448.14 L956.8 448.23 L956.9 448.32 L957.01 448.4 L957.11 448.49 L957.21 448.58 L957.32 448.67 L957.42 448.76 L957.52 448.85 L957.55 448.88 M971.53 464.67 L971.6 464.76 L971.71 464.9 L971.81 465.04 L971.91 465.18 L972.02 465.32 L972.12 465.46 L972.22 465.61 L972.33 465.75 L972.43 465.89 L972.53 466.03 L972.64 466.17 L972.74 466.32 L972.84 466.46 L972.95 466.6 L973.05 466.75 L973.16 466.89 L973.26 467.03 L973.36 467.18 L973.47 467.32 L973.57 467.47 L973.67 467.61 L973.78 467.76 L973.88 467.9 L973.98 468.05 L974.09 468.2 L974.19 468.34 L974.29 468.49 L974.4 468.64 L974.44 468.7 M988.83 490.78 L988.89 490.88 L988.99 491.04 L989.1 491.21 L989.2 491.37 L989.31 491.54 L989.41 491.7 L989.51 491.87 L989.62 492.03 L989.72 492.2 L989.82 492.37 L989.93 492.53 L990.03 492.7 L990.13 492.86 L990.24 493.03 L990.34 493.2 L990.44 493.36 L990.55 493.53 L990.65 493.69 L990.75 493.86 L990.86 494.02 L990.96 494.19 L991.07 494.36 L991.17 494.52 L991.27 494.69 L991.38 494.85 L991.48 495.02 L991.58 495.18 L991.67 495.32 M1005.84 517.09 L1005.87 517.13 L1005.97 517.28 L1006.08 517.43 L1006.18 517.57 L1006.28 517.72 L1006.39 517.87 L1006.49 518.01 L1006.59 518.16 L1006.7 518.3 L1006.8 518.45 L1006.9 518.6 L1007.01 518.74 L1007.11 518.88 L1007.22 519.03 L1007.32 519.17 L1007.42 519.32 L1007.53 519.46 L1007.63 519.6 L1007.73 519.75 L1007.84 519.89 L1007.94 520.03 L1008.04 520.18 L1008.15 520.32 L1008.25 520.46 L1008.35 520.6 L1008.46 520.74 L1008.56 520.88 L1008.66 521.02 L1008.77 521.16 L1008.87 521.3 L1008.98 521.44 L1009.08 521.58 L1009.18 521.72 L1009.19 521.73 M1022.46 536.79 L1022.54 536.86 L1022.64 536.95 L1022.74 537.04 L1022.85 537.13 L1022.95 537.23 L1023.05 537.32 L1023.16 537.41 L1023.26 537.5 L1023.37 537.58 L1023.47 537.67 L1023.57 537.76 L1023.68 537.85 L1023.78 537.94 L1023.88 538.02 L1023.99 538.11 L1024.09 538.2 L1024.19 538.28 L1024.3 538.37 L1024.4 538.45 L1024.5 538.53 L1024.61 538.62 L1024.71 538.7 L1024.81 538.78 L1024.92 538.87 L1025.02 538.95 L1025.13 539.03 L1025.23 539.11 L1025.33 539.19 L1025.44 539.27 L1025.54 539.35 L1025.64 539.43 L1025.75 539.51 L1025.85 539.59 L1025.95 539.67 L1026.06 539.74 L1026.16 539.82 L1026.26 539.9 L1026.37 539.97 L1026.47 540.05 L1026.57 540.12 L1026.68 540.2 L1026.78 540.27 L1026.89 540.35 L1026.99 540.42 L1027.09 540.49 L1027.15 540.53 M1038.96 545.58 L1039 545.58 L1039.1 545.6 L1039.2 545.61 L1039.31 545.62 L1039.41 545.64 L1039.52 545.65 L1039.62 545.66 L1039.72 545.67 L1039.83 545.69 L1039.93 545.7 L1040.03 545.71 L1040.14 545.72 L1040.24 545.72 L1040.34 545.73 L1040.45 545.74 L1040.55 545.75 L1040.65 545.76 L1040.76 545.76 L1040.86 545.77 L1040.96 545.77 L1041.07 545.78 L1041.17 545.78 L1041.28 545.79 L1041.38 545.79 L1041.48 545.79 L1041.59 545.8 L1041.69 545.8 L1041.79 545.8 L1041.9 545.8 L1042 545.8 " stroke="#C208AE" stroke-width="3.1" fill="none" stroke-linecap="round" stroke-linejoin="round"/>
<text class="lat" transform="translate(41.2 115) rotate(-90)" x="0" y="0" text-anchor="middle" font-size="15" fill="#444444" textLength="48.4" lengthAdjust="spacingAndGlyphs">Voltage</text>
<text class="cjk" transform="translate(60.4 114.9) rotate(-90)" x="0" y="0" text-anchor="middle" font-size="14" fill="#444444">电压</text>
<text class="lat" transform="translate(43.6 278.5) rotate(-90)" x="0" y="0" text-anchor="middle" font-size="15.4" fill="#444444" textLength="48.4" lengthAdjust="spacingAndGlyphs">Current</text>
<text class="cjk" transform="translate(61.6 277.9) rotate(-90)" x="0" y="0" text-anchor="middle" font-size="13.6" fill="#444444">电流</text>
<text class="lat" transform="translate(41.6 467.1) rotate(-90)" x="0" y="0" text-anchor="middle" font-size="15" fill="#444444" textLength="74" lengthAdjust="spacingAndGlyphs">Power Flow</text>
<text class="cjk" transform="translate(59.8 467.2) rotate(-90)" x="0" y="0" text-anchor="middle" font-size="14.2" fill="#444444">功率流</text>
<text class="lat" transform="translate(596 95.1) rotate(-90)" x="0" y="0" text-anchor="middle" font-size="15" fill="#444444" textLength="55.8" lengthAdjust="spacingAndGlyphs">Voltages</text>
<text class="cjk" transform="translate(613.5 94) rotate(-90)" x="0" y="0" text-anchor="middle" font-size="14" fill="#444444">电压</text>
<text class="lat" transform="translate(601.4 256.3) rotate(-90)" x="0" y="0" text-anchor="middle" font-size="15.4" fill="#444444" textLength="56" lengthAdjust="spacingAndGlyphs">Currents</text>
<text class="cjk" transform="translate(619.8 255.3) rotate(-90)" x="0" y="0" text-anchor="middle" font-size="13.6" fill="#444444">电流</text>
<text class="lat" transform="translate(599.1 440) rotate(-90)" x="0" y="0" text-anchor="middle" font-size="15" fill="#444444" textLength="80.4" lengthAdjust="spacingAndGlyphs">Power Flows</text>
<text class="cjk" transform="translate(617.3 440.3) rotate(-90)" x="0" y="0" text-anchor="middle" font-size="13.9" fill="#444444">功率流</text>
<text x="141.2" y="90.5" font-size="17" fill="#C208AE" font-weight="bold" textLength="11.5" lengthAdjust="spacingAndGlyphs">V</text>
<text x="132" y="253.7" font-size="16.9" fill="#C208AE" font-weight="bold" textLength="26.2" lengthAdjust="spacingAndGlyphs">I(V)</text>
<text x="324.3" y="414.2" font-size="16.5" fill="#151515" font-weight="normal" textLength="39.5" lengthAdjust="spacingAndGlyphs">2 x P</text>
<text x="363.4" y="417.6" font-size="14" fill="#151515" font-weight="normal" textLength="31" lengthAdjust="spacingAndGlyphs">LINE</text>
<path d="M352 399.6 L358 398.3 H394.9 L394.3 401.4 H352 Z" fill="#7c7c7c"/>
<text x="280.8" y="470" font-size="16.9" fill="#C208AE" font-weight="bold" textLength="9.6" lengthAdjust="spacingAndGlyphs">P</text>
<text x="291.7" y="473.4" font-size="13.4" fill="#C208AE" font-weight="bold" textLength="30.7" lengthAdjust="spacingAndGlyphs">LINE</text>
<path d="M280.9 456.1 H321.5" stroke="#D65CC8" stroke-width="2.3" stroke-linecap="round"/>
<text x="120.5" y="517.9" font-size="16" fill="#C208AE" font-weight="bold" textLength="87.6" lengthAdjust="spacingAndGlyphs">V x I(V) = P</text>
<text x="208.6" y="523" font-size="14.3" fill="#C208AE" font-weight="bold" textLength="31.4" lengthAdjust="spacingAndGlyphs">LINE</text>
<text x="654.8" y="51" font-size="14.8" fill="#C4A50C" font-weight="bold" textLength="10.7" lengthAdjust="spacingAndGlyphs">U</text>
<text x="686" y="51" font-size="14.8" fill="#C208AE" font-weight="bold" textLength="10.9" lengthAdjust="spacingAndGlyphs">V</text>
<text x="716.8" y="51" font-size="14.8" fill="#8A0CC8" font-weight="bold" textLength="13.9" lengthAdjust="spacingAndGlyphs">W</text>
<text x="656.4" y="211.9" font-size="15.5" fill="#C4A50C" font-weight="bold" textLength="25.6" lengthAdjust="spacingAndGlyphs">I(U)</text>
<text x="692.7" y="211.9" font-size="15.5" fill="#C208AE" font-weight="bold" textLength="24.4" lengthAdjust="spacingAndGlyphs">I(V)</text>
<text x="729.4" y="211.9" font-size="15.5" fill="#8A0CC8" font-weight="bold" textLength="28.4" lengthAdjust="spacingAndGlyphs">I(W)</text>
<text x="649.4" y="377.8" font-size="14.8" fill="#C4A50C" font-weight="bold" textLength="56.5" lengthAdjust="spacingAndGlyphs">U x I(U)</text>
<text x="708.3" y="377.8" font-size="11.5" fill="#1A6B08" font-weight="bold" textLength="8.8" lengthAdjust="spacingAndGlyphs">+</text>
<text x="721.1" y="377.8" font-size="14.8" fill="#C208AE" font-weight="bold" textLength="54.3" lengthAdjust="spacingAndGlyphs">V x I(V)</text>
<text x="778.8" y="377.8" font-size="11.5" fill="#1A6B08" font-weight="bold" textLength="8.8" lengthAdjust="spacingAndGlyphs">+</text>
<text x="792.4" y="377.8" font-size="14.8" fill="#8A0CC8" font-weight="bold" textLength="60.8" lengthAdjust="spacingAndGlyphs">W x I(W)</text>
<text x="857.9" y="377.8" font-size="14.8" fill="#1A6B08" font-weight="bold" textLength="22.7" lengthAdjust="spacingAndGlyphs">= P</text>
<text x="880.6" y="381.3" font-size="12.5" fill="#1A6B08" font-weight="bold" textLength="45" lengthAdjust="spacingAndGlyphs">3Phase</text>
<text x="930.2" y="377.8" font-size="14.8" fill="#1A6B08" font-weight="bold" textLength="34.6" lengthAdjust="spacingAndGlyphs">= 3 x</text>
<text x="969.4" y="377.8" font-size="14.8" fill="#1A6B08" font-weight="bold" textLength="10.4" lengthAdjust="spacingAndGlyphs">P</text>
<text x="979.4" y="381.3" font-size="12.5" fill="#1A6B08" font-weight="bold" textLength="29.5" lengthAdjust="spacingAndGlyphs">LINE</text>
<path d="M969.8 365.3 H1008.7" stroke="#1A6B08" stroke-width="2" stroke-linecap="round"/>
<text x="857.4" y="431.2" font-size="15.8" fill="#151515" font-weight="normal" textLength="36.3" lengthAdjust="spacingAndGlyphs">2 x P</text>
<text x="893.5" y="434.9" font-size="13.6" fill="#151515" font-weight="normal" textLength="28.3" lengthAdjust="spacingAndGlyphs">LINE</text>
<path d="M882.3 418.9 H921.9" stroke="#8c8c8c" stroke-width="1.8"/>
<text x="816.7" y="484.5" font-size="15.8" fill="#C208AE" font-weight="bold" textLength="8.6" lengthAdjust="spacingAndGlyphs">P</text>
<text x="826.8" y="487.9" font-size="13.5" fill="#C208AE" font-weight="bold" textLength="28.1" lengthAdjust="spacingAndGlyphs">LINE</text>
<path d="M816.4 472 H854.9" stroke="#D65CC8" stroke-width="2.1" stroke-linecap="round"/>
<text x="690.5" y="531.6" font-size="15.8" fill="#C208AE" font-weight="bold" textLength="80.2" lengthAdjust="spacingAndGlyphs">V x I(V) = P</text>
<text x="770.8" y="535.3" font-size="13.2" fill="#C208AE" font-weight="bold" textLength="28.8" lengthAdjust="spacingAndGlyphs">LINE</text>
</svg>
</body></html>
